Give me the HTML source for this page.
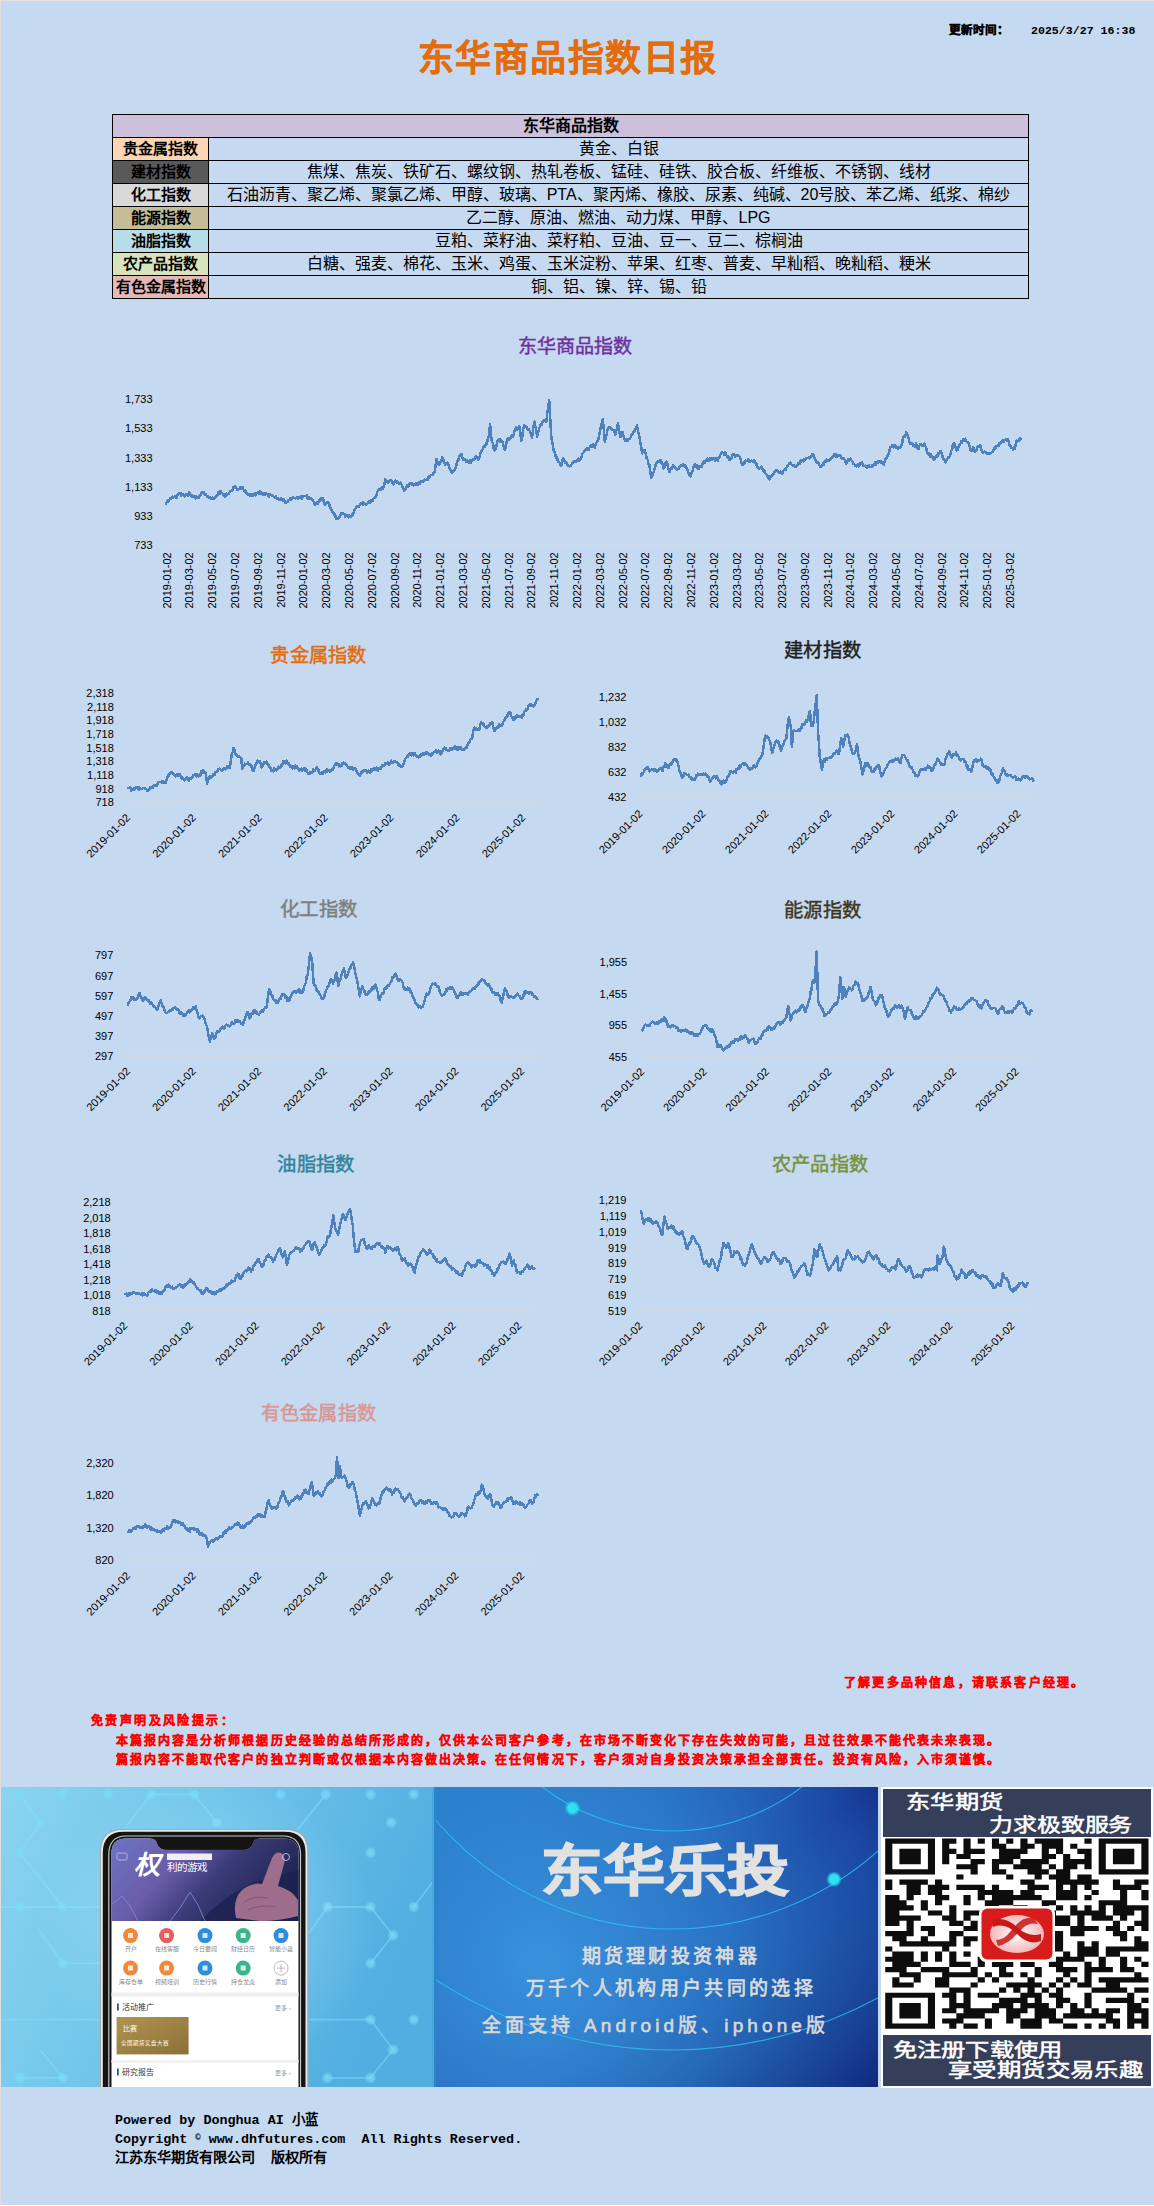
<!DOCTYPE html><html lang="zh-CN"><head><meta charset="utf-8"><style>
html,body{margin:0;padding:0;}
body{width:1154px;height:2206px;overflow:hidden;background:#fff;position:relative;font-family:"Liberation Sans",sans-serif;}
#pg{position:absolute;left:1px;top:1px;width:1153px;height:2204px;background:#C5D9F0;}
.abs{position:absolute;white-space:nowrap;}
table.t{position:absolute;left:112px;top:114px;border-collapse:collapse;font-family:"Liberation Sans",sans-serif;}
table.t td{border:1px solid #000;height:22px;padding:0;text-align:center;font-size:16px;line-height:22px;color:#000;}
table.t td.l{font-weight:bold;font-size:15px;width:95px;}
table.t td.c{width:819px;}
svg{position:absolute;left:0;top:0;}
</style></head><body>
<div style="position:absolute;left:0;top:0;width:1154px;height:1px;background:#E2E0DE"></div>
<div style="position:absolute;left:0;top:0;width:1px;height:2206px;background:#E2E0DE"></div>
<div id="pg"></div>

<div class="abs" style="left:418px;top:36.5px;font-size:36px;font-weight:bold;color:#E46C0A;letter-spacing:1.45px;line-height:44px;-webkit-text-stroke:0.3px #E46C0A">东华商品指数日报</div>
<div class="abs" style="left:949px;top:23px;font-family:'Liberation Mono',monospace;font-size:11.6px;font-weight:bold;line-height:16px"><span style="-webkit-text-stroke:0.35px #000">更新时间：</span><span style="margin-left:22px">2025/3/27 16:38</span></div>
<table class="t"><tr><td colspan="2" style="background:#CCC0DA;font-weight:bold">东华商品指数</td></tr>
<tr><td class="l" style="background:#FCD5B4">贵金属指数</td><td class="c">黄金、白银</td></tr>
<tr><td class="l" style="background:#595959">建材指数</td><td class="c">焦煤、焦炭、铁矿石、螺纹钢、热轧卷板、锰硅、硅铁、胶合板、纤维板、不锈钢、线材</td></tr>
<tr><td class="l" style="background:#D9D9D9">化工指数</td><td class="c">石油沥青、聚乙烯、聚氯乙烯、甲醇、玻璃、PTA、聚丙烯、橡胶、尿素、纯碱、20号胶、苯乙烯、纸浆、棉纱</td></tr>
<tr><td class="l" style="background:#C4BD97">能源指数</td><td class="c">乙二醇、原油、燃油、动力煤、甲醇、LPG</td></tr>
<tr><td class="l" style="background:#B7DEE8">油脂指数</td><td class="c">豆粕、菜籽油、菜籽粕、豆油、豆一、豆二、棕榈油</td></tr>
<tr><td class="l" style="background:#D7E4BD">农产品指数</td><td class="c">白糖、强麦、棉花、玉米、鸡蛋、玉米淀粉、苹果、红枣、普麦、早籼稻、晚籼稻、粳米</td></tr>
<tr><td class="l" style="background:#E6B9B8">有色金属指数</td><td class="c">铜、铝、镍、锌、锡、铅</td></tr>
</table>
<svg width="1154" height="2206" style="font-family:'Liberation Sans',sans-serif">
<text x="152.5" y="403.2" font-size="11" text-anchor="end" fill="#000">1,733</text>
<text x="152.5" y="432.4" font-size="11" text-anchor="end" fill="#000">1,533</text>
<text x="152.5" y="461.6" font-size="11" text-anchor="end" fill="#000">1,333</text>
<text x="152.5" y="490.8" font-size="11" text-anchor="end" fill="#000">1,133</text>
<text x="152.5" y="520.0" font-size="11" text-anchor="end" fill="#000">933</text>
<text x="152.5" y="549.2" font-size="11" text-anchor="end" fill="#000">733</text>
<line x1="166" y1="545.2" x2="1020.7" y2="545.2" stroke="#D9D9D9" stroke-width="1"/>
<text transform="translate(170.6,552.3) rotate(-90)" font-size="11" text-anchor="end" fill="#000">2019-01-02</text>
<text transform="translate(193.4,552.3) rotate(-90)" font-size="11" text-anchor="end" fill="#000">2019-03-02</text>
<text transform="translate(216.2,552.3) rotate(-90)" font-size="11" text-anchor="end" fill="#000">2019-05-02</text>
<text transform="translate(239.0,552.3) rotate(-90)" font-size="11" text-anchor="end" fill="#000">2019-07-02</text>
<text transform="translate(261.8,552.3) rotate(-90)" font-size="11" text-anchor="end" fill="#000">2019-09-02</text>
<text transform="translate(284.6,552.3) rotate(-90)" font-size="11" text-anchor="end" fill="#000">2019-11-02</text>
<text transform="translate(307.4,552.3) rotate(-90)" font-size="11" text-anchor="end" fill="#000">2020-01-02</text>
<text transform="translate(330.2,552.3) rotate(-90)" font-size="11" text-anchor="end" fill="#000">2020-03-02</text>
<text transform="translate(353.0,552.3) rotate(-90)" font-size="11" text-anchor="end" fill="#000">2020-05-02</text>
<text transform="translate(375.8,552.3) rotate(-90)" font-size="11" text-anchor="end" fill="#000">2020-07-02</text>
<text transform="translate(398.5,552.3) rotate(-90)" font-size="11" text-anchor="end" fill="#000">2020-09-02</text>
<text transform="translate(421.3,552.3) rotate(-90)" font-size="11" text-anchor="end" fill="#000">2020-11-02</text>
<text transform="translate(444.1,552.3) rotate(-90)" font-size="11" text-anchor="end" fill="#000">2021-01-02</text>
<text transform="translate(466.9,552.3) rotate(-90)" font-size="11" text-anchor="end" fill="#000">2021-03-02</text>
<text transform="translate(489.7,552.3) rotate(-90)" font-size="11" text-anchor="end" fill="#000">2021-05-02</text>
<text transform="translate(512.5,552.3) rotate(-90)" font-size="11" text-anchor="end" fill="#000">2021-07-02</text>
<text transform="translate(535.3,552.3) rotate(-90)" font-size="11" text-anchor="end" fill="#000">2021-09-02</text>
<text transform="translate(558.1,552.3) rotate(-90)" font-size="11" text-anchor="end" fill="#000">2021-11-02</text>
<text transform="translate(580.9,552.3) rotate(-90)" font-size="11" text-anchor="end" fill="#000">2022-01-02</text>
<text transform="translate(603.7,552.3) rotate(-90)" font-size="11" text-anchor="end" fill="#000">2022-03-02</text>
<text transform="translate(626.5,552.3) rotate(-90)" font-size="11" text-anchor="end" fill="#000">2022-05-02</text>
<text transform="translate(649.3,552.3) rotate(-90)" font-size="11" text-anchor="end" fill="#000">2022-07-02</text>
<text transform="translate(672.1,552.3) rotate(-90)" font-size="11" text-anchor="end" fill="#000">2022-09-02</text>
<text transform="translate(694.9,552.3) rotate(-90)" font-size="11" text-anchor="end" fill="#000">2022-11-02</text>
<text transform="translate(717.7,552.3) rotate(-90)" font-size="11" text-anchor="end" fill="#000">2023-01-02</text>
<text transform="translate(740.5,552.3) rotate(-90)" font-size="11" text-anchor="end" fill="#000">2023-03-02</text>
<text transform="translate(763.3,552.3) rotate(-90)" font-size="11" text-anchor="end" fill="#000">2023-05-02</text>
<text transform="translate(786.1,552.3) rotate(-90)" font-size="11" text-anchor="end" fill="#000">2023-07-02</text>
<text transform="translate(808.8,552.3) rotate(-90)" font-size="11" text-anchor="end" fill="#000">2023-09-02</text>
<text transform="translate(831.6,552.3) rotate(-90)" font-size="11" text-anchor="end" fill="#000">2023-11-02</text>
<text transform="translate(854.4,552.3) rotate(-90)" font-size="11" text-anchor="end" fill="#000">2024-01-02</text>
<text transform="translate(877.2,552.3) rotate(-90)" font-size="11" text-anchor="end" fill="#000">2024-03-02</text>
<text transform="translate(900.0,552.3) rotate(-90)" font-size="11" text-anchor="end" fill="#000">2024-05-02</text>
<text transform="translate(922.8,552.3) rotate(-90)" font-size="11" text-anchor="end" fill="#000">2024-07-02</text>
<text transform="translate(945.6,552.3) rotate(-90)" font-size="11" text-anchor="end" fill="#000">2024-09-02</text>
<text transform="translate(968.4,552.3) rotate(-90)" font-size="11" text-anchor="end" fill="#000">2024-11-02</text>
<text transform="translate(991.2,552.3) rotate(-90)" font-size="11" text-anchor="end" fill="#000">2025-01-02</text>
<text transform="translate(1014.0,552.3) rotate(-90)" font-size="11" text-anchor="end" fill="#000">2025-03-02</text>
<polyline points="166.0,503.7 166.8,502.1 167.7,500.6 168.5,501.4 169.3,499.9 170.1,498.0 170.9,499.1 171.6,498.1 172.4,496.6 173.2,497.6 174.0,497.1 174.9,495.9 175.8,497.5 176.8,498.1 177.7,494.6 178.6,494.0 179.4,492.8 180.2,494.1 181.0,495.7 181.7,493.6 182.5,494.1 183.3,495.3 184.0,495.5 184.8,496.4 185.5,495.0 186.3,494.2 187.0,494.3 187.9,495.7 188.9,492.2 189.8,493.4 190.7,495.9 191.7,495.2 192.6,497.1 193.4,496.0 194.2,496.0 195.0,496.7 195.8,498.5 196.6,496.4 197.4,497.9 198.2,497.7 199.0,497.4 199.7,495.6 200.5,495.4 201.3,493.0 202.1,492.2 202.9,492.9 203.8,492.3 204.7,494.5 205.6,494.3 206.6,495.5 207.5,497.1 208.2,496.7 209.0,497.8 209.7,497.6 210.4,497.3 211.1,499.2 211.9,499.1 212.6,497.7 213.3,499.0 214.0,499.0 215.0,497.7 215.9,496.2 216.7,496.3 217.6,494.7 218.4,492.0 219.3,491.5 220.0,493.6 220.8,491.2 221.6,492.7 222.4,493.4 223.4,495.5 224.3,494.7 225.2,497.1 226.0,496.2 226.7,493.7 227.4,494.3 228.3,494.0 229.1,493.4 229.9,491.5 230.8,491.1 231.7,490.2 232.5,490.4 233.3,487.5 234.1,487.7 234.9,486.0 235.7,487.5 236.5,488.7 237.3,489.7 238.1,488.8 238.9,489.4 239.7,489.1 240.5,486.9 241.2,487.3 242.0,488.5 242.7,487.0 243.5,489.7 244.2,490.1 245.0,491.8 245.7,490.6 246.6,493.6 247.6,494.3 248.4,493.9 249.2,494.5 250.0,495.7 250.8,493.8 251.6,495.5 252.4,494.8 253.2,496.2 254.0,494.4 254.8,493.6 255.6,495.5 256.4,492.8 257.2,492.7 258.0,492.6 258.8,492.5 259.6,493.9 260.3,491.3 261.1,492.7 261.9,493.2 262.7,494.4 263.5,494.4 264.3,493.4 265.1,494.9 265.9,493.2 266.6,493.9 267.4,493.9 268.2,496.0 268.9,496.5 269.7,494.0 270.4,494.3 271.2,494.8 272.0,495.0 272.7,496.2 273.5,496.6 274.3,497.4 275.1,496.8 275.8,496.4 276.6,498.3 277.4,499.0 278.1,498.4 278.9,498.9 279.6,500.0 280.4,498.9 281.1,498.1 281.9,498.9 282.6,500.0 283.3,500.9 284.1,499.5 284.8,501.8 285.6,502.9 286.3,502.2 287.1,502.2 287.8,501.7 288.6,500.0 289.3,499.8 290.1,498.5 290.8,500.0 291.5,497.8 292.3,499.0 293.1,497.5 293.9,498.0 294.7,497.9 295.5,498.5 296.3,497.5 297.1,497.3 297.9,499.0 298.6,497.5 299.4,497.1 300.1,497.7 300.9,496.3 301.6,498.9 302.4,497.7 303.1,495.8 303.8,495.9 304.6,496.0 305.3,496.2 306.1,496.1 306.9,495.5 307.7,498.3 308.4,499.1 309.2,497.6 310.0,498.1 310.8,498.9 311.6,498.5 312.4,499.5 313.2,501.3 314.0,501.9 314.8,504.8 315.6,504.6 316.3,502.8 317.1,501.7 317.8,504.2 318.6,502.1 319.3,500.1 320.1,500.8 320.8,498.4 321.5,499.5 322.3,500.3 323.0,498.1 324.0,502.6 324.9,504.6 325.8,504.3 326.8,501.9 327.7,501.8 328.4,502.8 329.2,503.6 329.9,507.2 330.7,507.9 331.4,509.2 332.3,512.1 333.3,512.4 334.2,514.8 335.0,514.6 335.7,517.4 336.4,518.7 337.2,519.0 337.9,518.6 338.7,518.5 339.4,517.4 340.2,516.0 340.9,513.2 341.7,513.0 342.4,513.8 343.2,514.0 343.9,513.6 344.6,514.3 345.4,516.7 346.1,515.8 346.9,515.5 347.6,516.8 348.4,517.5 349.1,515.6 349.9,517.1 350.6,517.1 351.4,516.8 352.1,514.6 352.8,514.8 353.8,511.7 354.7,509.6 355.6,508.3 356.4,506.5 357.2,505.8 358.0,506.4 358.7,506.6 359.5,505.6 360.3,503.7 361.1,503.6 361.9,504.2 362.6,504.7 363.4,502.2 364.2,504.2 365.0,503.7 365.8,504.8 366.6,504.1 367.4,503.7 368.2,502.5 368.9,501.2 369.7,503.0 370.5,501.8 371.3,500.4 372.0,501.3 372.8,501.1 373.5,498.3 374.3,497.6 375.0,497.1 375.8,497.3 376.6,495.1 377.3,491.8 378.1,490.3 378.9,489.0 379.7,488.8 380.4,489.9 381.1,489.4 381.9,487.0 382.6,489.1 383.4,487.8 384.3,485.1 385.2,479.1 386.2,481.0 387.1,481.3 388.0,483.2 389.0,481.9 389.9,480.4 390.8,480.4 391.8,481.2 392.7,484.1 393.6,484.5 394.6,482.1 395.5,480.4 396.3,481.0 397.1,482.9 397.9,481.7 398.7,483.8 399.5,484.1 400.3,482.6 401.1,484.1 402.0,485.4 402.9,487.7 403.9,490.6 404.6,488.9 405.3,489.3 406.1,487.3 406.8,487.0 407.5,485.2 408.2,487.0 409.0,484.3 409.7,483.8 410.4,483.2 411.1,483.6 411.9,484.9 412.6,483.5 413.4,485.3 414.1,484.1 414.9,484.4 415.6,484.5 416.4,483.0 417.1,484.6 417.9,485.0 418.6,483.2 419.3,481.8 420.1,483.8 420.8,480.9 421.6,481.3 422.4,480.9 423.2,481.5 424.0,480.7 424.8,479.6 425.6,480.0 426.4,479.9 427.2,479.4 427.9,479.6 428.7,476.5 429.5,477.3 430.3,475.5 431.1,474.8 431.8,474.8 432.8,474.8 433.7,472.9 434.6,472.0 435.6,465.7 436.5,458.9 437.4,461.7 438.4,464.1 439.3,464.5 440.1,462.5 440.9,461.2 441.7,459.0 442.4,457.1 443.3,459.6 444.1,462.7 444.9,464.5 445.8,463.7 446.7,463.4 447.7,462.7 448.4,464.3 449.2,467.6 450.0,468.5 450.8,470.8 451.5,472.7 452.3,472.9 453.1,470.8 453.8,470.5 454.6,470.5 455.3,468.9 456.1,466.4 456.8,463.1 457.6,461.1 458.4,460.1 459.2,456.9 459.9,455.4 460.7,454.3 461.5,453.9 462.2,457.1 462.9,458.6 463.7,460.1 464.4,459.9 465.2,459.1 465.9,461.4 466.7,461.5 467.4,460.1 468.2,461.7 468.9,462.8 469.7,463.0 470.4,460.2 471.1,462.5 471.9,460.8 472.6,459.5 473.4,458.9 474.1,459.7 474.9,458.2 475.6,456.1 476.5,456.2 477.5,458.4 478.4,459.9 479.2,457.9 479.9,455.2 480.6,452.7 481.4,451.1 482.1,449.6 482.9,449.4 483.7,446.1 484.5,447.0 485.2,445.7 486.0,443.3 486.8,444.0 487.7,439.7 488.7,436.6 489.4,430.7 490.1,423.9 491.5,439.4 492.2,442.2 493.0,443.5 493.8,449.4 494.6,450.6 495.5,449.0 496.3,447.0 497.1,441.5 498.0,440.3 498.7,439.7 499.5,439.1 500.2,441.8 501.0,440.3 501.7,441.2 502.5,442.1 503.4,445.2 504.2,448.9 505.1,449.6 505.8,447.3 506.5,442.0 507.3,439.4 508.1,437.8 508.9,440.0 509.7,438.4 510.5,438.5 511.3,436.0 512.1,435.5 512.9,436.6 513.8,434.0 514.7,430.1 515.5,429.2 516.3,427.4 517.1,429.7 517.8,428.0 518.6,428.0 519.4,426.3 520.3,432.4 521.3,441.2 522.2,437.2 523.1,429.2 524.1,425.4 524.8,427.3 525.6,426.5 526.4,426.7 527.2,428.1 527.9,430.0 528.7,429.1 529.6,430.4 530.4,432.1 531.2,435.5 532.1,437.5 532.8,431.3 533.6,425.6 534.3,421.7 535.2,425.5 536.2,430.1 537.1,436.6 538.0,432.2 539.0,429.1 539.9,426.3 540.6,424.6 541.4,425.0 542.1,422.3 542.9,421.9 543.6,420.7 544.6,420.0 545.5,420.8 546.4,421.7 547.3,412.9 548.3,406.5 549.2,400.2 550.1,415.8 551.1,434.7 552.0,441.1 552.9,446.1 553.9,451.5 554.6,452.1 555.4,454.8 556.1,458.0 556.9,456.9 557.6,459.9 558.3,462.1 559.1,461.9 559.8,463.2 560.6,465.5 561.3,465.5 562.3,461.4 563.2,458.0 563.9,459.1 564.7,460.9 565.4,463.0 566.2,461.9 566.9,463.6 567.8,465.7 568.8,466.2 569.7,466.4 570.5,466.2 571.3,464.7 572.1,463.9 572.9,462.2 573.7,461.8 574.5,460.9 575.3,461.7 576.1,462.1 576.9,460.0 577.6,459.2 578.4,458.5 579.2,460.6 580.0,458.9 580.7,458.9 581.4,456.9 582.2,454.3 582.9,452.8 583.7,452.4 584.4,451.1 585.1,451.0 585.8,449.4 586.5,449.7 587.2,448.5 587.9,450.3 588.6,449.7 589.3,447.6 590.0,446.8 590.9,445.0 591.9,446.5 592.8,444.0 593.7,445.2 594.7,447.8 595.4,445.6 596.1,442.7 596.9,442.3 597.6,441.0 598.4,439.4 599.3,434.7 600.2,430.1 601.1,425.3 601.9,422.6 602.7,418.9 603.4,425.0 604.2,433.6 604.9,442.2 605.7,437.8 606.4,435.9 607.1,431.7 607.9,428.6 608.6,427.3 609.4,427.0 610.2,427.2 611.0,428.8 611.8,429.0 612.6,430.1 613.4,430.2 614.2,430.1 615.2,434.7 616.1,431.7 617.0,428.6 617.9,423.5 618.7,427.5 619.4,431.6 620.2,436.6 621.0,436.7 621.8,432.3 622.6,431.9 623.5,435.8 624.5,438.6 625.4,441.2 626.2,439.0 627.0,441.0 627.8,440.6 628.6,439.0 629.4,438.7 630.2,438.3 631.0,436.6 631.7,434.0 632.5,433.9 633.2,432.4 634.0,432.1 634.7,430.6 635.5,429.3 636.2,427.1 637.0,425.4 637.8,430.5 638.6,433.5 639.4,436.6 640.3,442.8 641.2,446.8 642.2,453.4 643.1,450.8 644.0,450.2 645.0,450.6 645.9,454.3 646.8,458.9 647.6,459.5 648.4,463.8 649.3,464.5 650.2,471.2 651.1,477.6 651.9,476.1 652.7,474.3 653.5,472.6 654.3,470.1 655.2,467.3 656.1,462.8 657.1,461.7 657.8,462.4 658.6,461.8 659.3,460.6 660.1,460.4 660.8,459.9 661.7,463.2 662.7,464.0 663.6,468.3 664.5,466.9 665.5,463.1 666.4,461.7 667.3,463.7 668.3,467.8 669.2,472.0 669.9,471.5 670.7,468.4 671.4,468.9 672.2,468.4 672.9,465.5 673.7,466.1 674.5,466.3 675.2,467.3 676.0,468.6 676.8,469.5 677.6,469.2 678.4,468.9 679.2,468.3 680.0,465.8 680.8,465.3 681.6,465.0 682.4,466.0 683.2,464.5 683.9,464.8 684.7,466.6 685.4,465.7 686.1,466.8 686.9,469.2 687.6,469.9 688.4,472.8 689.1,474.3 689.9,475.7 690.6,476.6 691.4,473.5 692.1,471.9 692.9,469.3 693.6,466.8 694.3,464.5 695.1,463.9 695.9,467.1 696.7,465.4 697.4,468.6 698.2,469.1 699.0,468.3 699.7,465.8 700.4,466.5 701.2,466.9 701.9,466.5 702.6,463.9 703.3,462.5 704.1,461.5 704.8,463.1 705.5,460.8 706.3,459.5 707.0,460.5 707.8,458.7 708.5,459.8 709.2,460.9 710.0,457.9 710.7,459.9 711.5,458.6 712.2,459.6 713.0,458.0 713.8,459.2 714.5,458.0 715.3,460.8 716.1,459.8 716.9,458.7 717.6,460.8 718.4,457.6 719.1,457.8 719.9,456.2 720.6,454.2 721.4,453.4 722.1,452.3 722.9,453.1 723.7,453.2 724.5,455.1 725.2,452.4 726.0,454.3 726.8,456.3 727.5,457.7 728.3,456.3 729.0,460.2 729.7,459.9 730.5,459.5 731.2,459.0 732.0,455.8 732.7,455.0 733.5,454.3 734.3,454.2 735.1,456.5 735.9,455.4 736.7,454.9 737.5,455.4 738.3,455.1 739.1,456.1 740.0,457.4 740.9,460.4 741.9,464.5 742.6,465.0 743.4,462.6 744.2,464.1 745.0,461.2 745.7,460.6 746.5,460.8 747.3,460.7 748.0,459.6 748.7,460.1 749.5,462.0 750.2,461.6 751.0,461.3 751.7,460.6 752.5,461.5 753.2,461.5 754.0,459.9 754.7,461.5 755.5,463.6 756.2,462.8 756.9,466.6 757.7,467.3 758.5,467.3 759.2,468.5 760.0,468.3 760.8,467.2 761.6,466.6 762.3,468.3 763.3,471.3 764.2,470.1 765.1,472.9 765.9,473.9 766.6,474.6 767.4,475.6 768.1,478.2 768.9,478.5 769.6,479.3 770.4,476.1 771.2,476.7 772.0,474.7 772.8,474.8 773.5,473.8 774.3,472.7 775.0,471.2 775.8,470.5 776.5,469.9 777.3,470.1 778.2,472.4 779.1,472.0 780.1,472.9 780.8,471.6 781.6,473.5 782.4,473.4 783.2,471.1 784.0,469.7 784.8,469.5 785.6,470.1 786.4,467.5 787.2,467.1 788.0,465.0 788.7,464.3 789.5,463.1 790.3,462.7 791.1,463.6 791.9,465.3 792.7,465.5 793.5,465.0 794.3,465.7 795.1,466.7 795.9,467.3 796.7,466.0 797.5,464.9 798.3,463.0 799.1,462.8 799.9,464.3 800.7,460.5 801.5,460.8 802.2,460.6 802.9,460.8 803.6,461.3 804.3,458.9 805.0,459.6 805.8,458.4 806.5,458.0 807.3,458.1 808.1,457.9 808.8,457.7 809.7,458.3 810.5,457.0 811.4,456.1 812.2,453.9 813.1,453.7 813.9,455.1 814.7,458.9 815.5,459.6 816.2,462.0 816.9,461.7 817.7,463.2 818.4,462.3 819.1,464.8 819.9,466.3 820.7,467.0 821.5,465.9 822.3,465.3 823.1,463.4 823.8,464.5 824.5,461.6 825.3,460.6 826.0,461.5 826.7,459.7 827.5,460.4 828.3,460.4 829.0,460.7 829.8,459.4 830.5,458.6 831.3,458.4 832.1,456.8 832.8,456.5 833.6,455.8 834.4,454.0 835.3,456.4 836.1,454.3 837.0,456.4 837.8,454.8 838.6,455.9 839.3,455.2 840.1,455.2 840.8,456.2 841.6,458.0 842.4,458.8 843.1,458.6 843.8,458.5 844.6,459.6 845.3,462.3 846.0,463.4 846.7,462.7 847.4,461.1 848.1,459.6 848.9,459.6 849.6,460.3 850.4,458.7 851.1,460.1 851.9,461.0 852.7,461.5 853.4,464.0 854.2,463.9 855.0,465.7 855.7,465.2 856.5,466.3 857.3,464.9 858.1,464.4 858.9,466.4 859.7,465.1 860.4,463.2 861.2,463.4 862.0,462.5 862.7,464.8 863.4,466.1 864.1,466.3 864.8,466.1 865.6,465.6 866.3,467.1 867.1,468.1 867.8,465.9 868.6,465.3 869.3,466.5 870.0,466.8 870.8,467.2 871.5,467.2 872.2,465.0 872.9,466.4 873.6,465.6 874.4,464.3 875.1,462.6 875.8,464.6 876.5,462.4 877.3,461.7 878.1,463.2 878.9,461.1 879.7,460.9 880.5,462.5 881.3,461.5 882.2,462.2 883.2,464.4 883.9,464.6 884.7,461.7 885.5,459.3 886.2,458.1 887.0,457.7 887.7,455.3 888.4,454.0 889.1,452.8 889.8,449.1 890.6,446.9 891.3,446.8 892.0,445.3 892.7,445.3 893.5,447.5 894.2,445.2 895.0,445.5 895.8,446.1 896.5,448.2 897.3,447.3 898.1,448.6 898.9,448.0 899.7,447.0 900.5,447.5 901.3,445.3 902.0,444.4 902.7,439.9 903.4,437.1 904.1,435.8 904.9,436.5 905.6,435.2 906.3,432.0 907.0,432.9 907.7,436.1 908.4,437.7 909.1,440.3 909.9,443.4 910.6,443.4 911.4,443.4 912.1,443.4 912.9,444.9 913.7,446.2 914.4,445.3 915.1,446.8 915.8,443.5 916.5,444.3 917.5,448.3 918.4,449.1 919.4,445.7 920.3,444.3 921.1,444.0 921.9,445.7 922.7,445.9 923.5,444.7 924.3,443.6 925.1,445.3 925.8,447.3 926.5,449.1 927.3,453.2 928.0,453.9 928.7,453.4 929.5,454.6 930.3,456.9 931.0,454.6 931.8,456.7 932.5,457.1 933.2,459.2 933.9,459.8 934.6,459.6 935.4,457.0 936.1,455.9 936.8,454.9 937.5,456.7 938.2,453.4 938.9,454.0 939.7,453.4 940.4,451.0 941.2,452.4 942.0,454.0 942.8,458.3 943.5,459.0 944.3,459.7 945.1,462.4 945.9,462.2 946.7,459.9 947.4,458.8 948.2,456.9 948.9,457.7 949.7,456.2 950.5,454.3 951.3,451.0 952.1,449.7 952.9,444.1 953.7,443.4 954.5,443.8 955.2,446.0 956.0,448.9 956.8,450.3 957.5,450.1 958.3,448.0 959.1,445.8 959.8,444.7 960.6,443.2 961.3,441.5 962.1,442.4 962.9,439.3 963.6,440.8 964.4,440.0 965.2,438.6 965.9,440.9 966.7,441.8 967.4,442.4 968.2,442.6 969.0,444.3 969.9,447.1 970.9,451.0 971.6,449.8 972.3,450.5 973.0,447.4 973.7,448.2 974.7,452.0 975.4,450.1 976.1,451.2 976.8,448.6 977.5,447.1 978.3,446.2 979.0,447.1 979.7,445.5 980.4,445.3 981.1,448.8 981.8,450.4 982.6,452.7 983.3,452.9 984.0,452.2 984.7,451.7 985.5,451.9 986.2,453.3 987.0,454.2 987.7,453.4 988.5,452.8 989.2,453.5 989.9,453.9 990.7,453.4 991.4,452.8 992.1,452.2 992.8,451.7 993.5,450.3 994.2,447.6 994.9,449.2 995.7,447.2 996.5,445.9 997.2,446.2 998.0,444.9 998.8,445.5 999.6,443.0 1000.4,443.4 1001.2,441.9 1002.0,441.2 1002.8,440.3 1003.6,442.1 1004.4,440.5 1005.2,439.6 1005.9,439.0 1006.6,439.2 1007.3,441.2 1008.1,439.6 1009.0,442.9 1010.0,446.2 1010.8,445.8 1011.5,448.2 1012.3,448.2 1013.1,449.8 1013.9,447.3 1014.7,449.1 1015.7,444.7 1016.6,440.5 1017.4,441.3 1018.3,441.1 1019.1,441.1 1019.9,437.9 1020.7,439.2" fill="none" stroke="#4F81BD" stroke-width="2.5" stroke-linejoin="round" stroke-linecap="round" shape-rendering="crispEdges"/>
<text x="517.9" y="353" font-size="19" textLength="114.6" lengthAdjust="spacingAndGlyphs" fill="#7030A0" stroke="#7030A0" stroke-width="0.45">东华商品指数</text>
<text x="113.8" y="697.0" font-size="11" text-anchor="end" fill="#000">2,318</text>
<text x="113.8" y="710.6" font-size="11" text-anchor="end" fill="#000">2,118</text>
<text x="113.8" y="724.3" font-size="11" text-anchor="end" fill="#000">1,918</text>
<text x="113.8" y="738.0" font-size="11" text-anchor="end" fill="#000">1,718</text>
<text x="113.8" y="751.6" font-size="11" text-anchor="end" fill="#000">1,518</text>
<text x="113.8" y="765.2" font-size="11" text-anchor="end" fill="#000">1,318</text>
<text x="113.8" y="778.9" font-size="11" text-anchor="end" fill="#000">1,118</text>
<text x="113.8" y="792.6" font-size="11" text-anchor="end" fill="#000">918</text>
<text x="113.8" y="806.2" font-size="11" text-anchor="end" fill="#000">718</text>
<line x1="128" y1="802.2" x2="537.8" y2="802.2" stroke="#D9D9D9" stroke-width="1"/>
<text transform="translate(130.8,818.5) rotate(-45)" font-size="11" text-anchor="end" fill="#000">2019-01-02</text>
<text transform="translate(196.7,818.5) rotate(-45)" font-size="11" text-anchor="end" fill="#000">2020-01-02</text>
<text transform="translate(262.6,818.5) rotate(-45)" font-size="11" text-anchor="end" fill="#000">2021-01-02</text>
<text transform="translate(328.5,818.5) rotate(-45)" font-size="11" text-anchor="end" fill="#000">2022-01-02</text>
<text transform="translate(394.4,818.5) rotate(-45)" font-size="11" text-anchor="end" fill="#000">2023-01-02</text>
<text transform="translate(460.3,818.5) rotate(-45)" font-size="11" text-anchor="end" fill="#000">2024-01-02</text>
<text transform="translate(526.2,818.5) rotate(-45)" font-size="11" text-anchor="end" fill="#000">2025-01-02</text>
<polyline points="128.0,788.3 128.8,787.8 129.6,787.3 130.5,787.8 131.3,790.6 132.1,789.2 132.9,789.2 133.6,790.0 134.4,787.8 135.1,789.2 135.9,787.5 136.6,787.4 137.4,786.9 138.1,789.0 138.8,790.0 139.6,787.5 140.3,789.2 141.2,789.2 142.1,789.0 143.0,788.3 143.8,787.8 144.5,788.7 145.3,788.4 146.1,789.1 146.8,789.7 147.6,791.0 148.3,790.7 149.1,790.3 149.8,788.2 150.6,786.9 151.4,787.4 152.1,787.4 152.8,787.6 153.6,785.6 154.3,785.6 155.0,784.9 155.8,785.6 156.5,785.9 157.3,784.5 158.0,782.2 158.8,781.8 159.5,782.2 160.3,781.9 161.1,782.2 161.9,782.6 162.6,780.9 163.4,781.3 164.2,783.2 165.0,782.4 165.8,782.8 166.6,779.7 167.3,777.3 168.1,775.5 168.9,776.2 169.7,773.1 170.5,773.0 171.2,771.9 172.1,772.3 173.0,773.4 174.0,774.6 174.7,776.0 175.5,776.6 176.3,774.6 177.1,774.1 177.9,776.1 178.6,774.4 179.4,775.5 180.2,774.5 180.9,778.1 181.7,777.1 182.4,779.1 183.2,778.3 184.0,779.2 184.7,780.5 185.4,779.0 186.1,778.0 186.8,777.5 187.5,779.4 188.2,779.7 188.9,780.6 189.6,777.8 190.3,779.2 191.1,778.8 191.9,777.2 192.6,776.9 193.4,774.9 194.1,774.7 194.9,774.6 195.6,774.9 196.4,776.4 197.2,773.8 197.9,775.2 198.7,776.4 199.4,775.5 200.2,776.0 200.9,772.3 201.6,771.0 202.3,772.7 203.1,770.1 204.0,772.6 204.9,771.8 205.8,772.8 207.1,783.7 207.8,779.0 208.5,777.4 209.3,778.4 210.1,776.2 210.9,777.6 211.7,776.2 212.4,776.5 213.2,773.9 214.0,774.6 214.8,774.7 215.5,771.9 216.3,771.6 217.0,772.2 217.8,771.2 218.5,769.2 219.3,768.5 220.0,768.9 220.7,769.9 221.5,770.7 222.2,771.0 222.9,770.0 223.7,768.5 224.5,768.3 225.2,769.3 226.0,769.3 226.7,767.4 227.5,765.8 228.4,767.6 229.2,768.2 230.0,767.4 231.3,757.3 232.0,752.7 232.7,752.4 233.5,748.2 234.3,749.1 235.0,752.8 235.8,754.6 236.7,755.4 237.6,756.3 238.6,756.4 239.5,756.4 240.4,757.4 241.3,758.3 242.2,769.2 243.1,767.6 244.0,765.3 244.9,763.7 245.7,764.4 246.5,763.8 247.3,763.9 248.0,762.6 248.8,764.8 249.6,764.5 250.4,764.6 251.2,765.3 252.0,768.7 252.8,770.4 253.7,771.0 254.4,768.6 255.2,765.4 256.0,764.1 256.8,761.9 257.5,760.7 258.2,761.0 258.9,762.2 259.7,761.2 260.4,762.8 261.7,767.4 262.5,765.8 263.3,764.7 264.1,761.7 264.9,761.9 265.7,762.9 266.4,761.6 267.1,764.3 267.9,765.0 268.6,764.6 269.5,766.8 270.4,767.4 271.3,771.0 272.0,770.6 272.8,769.8 273.5,771.4 274.2,768.3 275.0,769.2 275.7,770.1 276.5,770.3 277.2,769.1 278.0,769.0 278.7,766.6 279.5,767.4 280.3,767.9 281.0,765.2 281.8,765.7 282.5,764.5 283.3,760.9 284.1,761.0 284.8,762.3 285.5,763.2 286.2,760.6 287.0,761.9 287.7,762.8 288.4,764.6 289.2,763.5 289.9,766.9 290.6,765.7 291.3,767.4 292.1,768.3 292.9,765.9 293.7,767.0 294.5,768.3 295.2,765.7 296.0,765.8 296.8,766.4 297.6,768.0 298.4,768.9 299.2,771.0 299.9,769.0 300.6,769.1 301.3,768.7 302.0,770.9 302.7,769.7 303.4,770.0 304.1,768.3 304.8,768.0 305.6,771.1 306.3,769.7 307.1,772.0 307.9,773.3 308.6,773.7 309.4,772.7 310.2,773.9 311.0,772.3 311.7,771.9 312.5,772.4 313.3,769.3 314.1,770.1 315.0,770.8 315.9,768.7 316.8,767.4 317.5,768.3 318.3,770.9 319.0,770.4 319.7,774.1 320.5,773.7 321.2,773.7 322.0,772.6 322.7,773.7 323.5,772.3 324.2,771.1 325.0,771.9 325.7,772.4 326.5,769.6 327.2,771.9 327.9,769.6 328.6,770.1 329.4,770.6 330.1,771.7 330.8,770.4 331.5,770.6 332.3,769.4 333.0,770.1 333.7,766.9 334.5,765.6 335.2,764.5 335.9,764.7 336.6,762.8 337.4,763.3 338.1,764.3 338.8,766.3 339.6,764.5 340.3,766.4 341.0,765.0 341.7,765.9 342.5,763.2 343.2,762.6 343.9,763.7 344.7,763.9 345.5,763.7 346.3,765.2 347.0,765.4 347.8,767.2 348.6,767.9 349.4,768.3 350.1,767.4 350.8,768.9 351.5,768.5 352.2,767.4 352.9,770.3 353.6,768.0 354.3,767.8 355.0,767.7 355.7,769.2 356.6,770.9 357.4,773.0 358.3,774.0 359.1,773.9 359.9,775.5 360.7,773.6 361.5,771.7 362.3,772.8 363.1,771.4 363.9,770.1 364.7,769.8 365.5,771.1 366.3,770.7 367.1,772.6 367.8,772.2 368.6,770.8 369.4,771.9 370.2,772.9 371.0,769.6 371.7,770.8 372.5,770.0 373.3,769.1 374.1,768.1 374.9,769.2 375.6,770.1 376.4,767.5 377.2,769.3 378.0,770.7 378.8,768.0 379.5,768.2 380.3,769.2 381.2,767.7 382.1,765.5 382.9,765.3 383.7,765.5 384.5,765.8 385.3,763.4 386.0,763.6 386.8,763.3 387.6,763.7 388.3,761.9 389.1,764.5 389.8,763.9 390.5,763.4 391.2,760.7 392.0,763.2 392.7,762.6 393.4,761.4 394.1,762.1 394.9,761.0 395.6,761.7 396.3,761.9 397.1,762.4 397.8,763.7 398.5,765.5 399.2,764.1 400.0,765.3 400.7,766.9 401.4,766.9 402.2,766.4 403.1,765.5 404.0,762.9 404.9,760.1 405.6,758.2 406.3,758.1 407.1,756.6 407.8,756.7 408.5,754.6 409.3,754.5 410.0,753.5 410.8,754.6 411.6,755.6 412.3,752.9 413.1,753.7 413.8,755.5 414.5,753.1 415.3,754.5 416.0,755.0 416.7,756.4 417.5,757.0 418.3,757.4 419.1,756.5 419.8,754.8 420.6,756.4 421.4,754.3 422.2,754.6 422.9,753.3 423.7,755.1 424.4,753.7 425.2,753.4 426.0,752.9 426.7,751.9 427.4,754.1 428.2,752.9 428.9,754.7 429.6,754.7 430.4,754.6 431.1,755.4 431.8,753.6 432.5,754.2 433.2,753.2 433.9,751.9 434.6,751.2 435.3,752.2 436.0,749.9 436.7,751.0 437.5,752.8 438.2,750.7 439.0,750.7 439.8,751.5 440.5,754.7 441.3,753.7 442.2,751.7 443.1,749.5 444.0,749.2 444.8,747.7 445.6,747.9 446.3,750.2 447.1,750.1 447.9,750.5 448.7,750.7 449.5,750.1 450.2,748.1 451.0,749.5 451.7,748.2 452.5,749.3 453.3,748.9 454.0,747.3 454.7,748.9 455.4,746.3 456.1,749.2 456.8,749.6 457.6,749.9 458.3,747.2 459.0,747.7 459.7,747.6 460.4,749.2 461.1,747.5 461.8,750.1 462.5,749.9 463.2,749.2 463.9,749.8 464.6,749.0 465.3,747.7 466.1,747.0 466.8,748.2 467.7,744.1 468.6,742.8 469.3,742.7 470.0,740.0 470.8,739.4 471.5,738.9 472.2,738.2 473.1,731.6 474.0,728.2 474.8,727.7 475.6,728.1 476.3,729.9 477.1,729.0 477.8,729.1 478.6,730.0 479.5,728.9 480.4,724.6 481.3,721.9 482.0,724.1 482.8,724.4 483.5,723.5 484.2,725.9 485.0,727.3 485.7,726.9 486.4,727.9 487.1,726.2 487.9,727.3 488.6,726.4 489.4,725.4 490.1,723.2 490.9,724.2 491.7,721.9 492.4,722.7 493.1,727.5 493.9,727.6 494.6,731.0 495.4,728.1 496.1,727.7 496.9,728.4 497.7,726.4 498.5,727.7 499.2,724.1 500.0,725.5 500.7,725.2 501.5,725.9 502.2,724.6 503.2,721.7 504.1,720.9 505.0,719.1 505.7,717.4 506.5,717.8 507.2,714.7 508.0,715.8 508.8,712.3 509.5,711.8 510.3,712.5 511.0,715.8 511.7,716.8 512.4,717.1 513.2,720.0 513.9,719.6 514.6,716.8 515.3,718.3 516.1,717.1 516.8,715.5 517.6,716.8 518.3,716.5 519.1,715.9 519.8,716.4 520.6,716.6 521.4,717.3 522.1,717.6 522.9,713.8 523.6,715.4 524.4,711.4 525.1,711.0 525.9,710.9 526.6,708.9 527.4,709.8 528.1,707.1 528.8,705.4 529.5,704.6 530.3,706.2 531.0,704.4 531.7,705.5 532.5,706.1 533.2,706.4 534.0,706.0 534.7,704.8 535.5,703.2 536.3,701.0 537.0,699.7 537.8,699.1" fill="none" stroke="#4F81BD" stroke-width="2.5" stroke-linejoin="round" stroke-linecap="round" shape-rendering="crispEdges"/>
<text x="270.4" y="662" font-size="19" textLength="96.2" lengthAdjust="spacingAndGlyphs" fill="#E46C0A" stroke="#E46C0A" stroke-width="0.45">贵金属指数</text>
<text x="626.4" y="701.3" font-size="11" text-anchor="end" fill="#000">1,232</text>
<text x="626.4" y="726.2" font-size="11" text-anchor="end" fill="#000">1,032</text>
<text x="626.4" y="751.1" font-size="11" text-anchor="end" fill="#000">832</text>
<text x="626.4" y="776.1" font-size="11" text-anchor="end" fill="#000">632</text>
<text x="626.4" y="801.0" font-size="11" text-anchor="end" fill="#000">432</text>
<line x1="641" y1="797" x2="1033.4" y2="797" stroke="#D9D9D9" stroke-width="1"/>
<text transform="translate(643.4,814.5) rotate(-45)" font-size="11" text-anchor="end" fill="#000">2019-01-02</text>
<text transform="translate(706.4,814.5) rotate(-45)" font-size="11" text-anchor="end" fill="#000">2020-01-02</text>
<text transform="translate(769.4,814.5) rotate(-45)" font-size="11" text-anchor="end" fill="#000">2021-01-02</text>
<text transform="translate(832.4,814.5) rotate(-45)" font-size="11" text-anchor="end" fill="#000">2022-01-02</text>
<text transform="translate(895.4,814.5) rotate(-45)" font-size="11" text-anchor="end" fill="#000">2023-01-02</text>
<text transform="translate(958.4,814.5) rotate(-45)" font-size="11" text-anchor="end" fill="#000">2024-01-02</text>
<text transform="translate(1021.4,814.5) rotate(-45)" font-size="11" text-anchor="end" fill="#000">2025-01-02</text>
<polyline points="641.0,775.5 641.7,773.3 642.4,774.6 643.1,773.0 643.8,772.3 644.5,769.4 645.2,769.3 645.9,769.4 646.6,767.5 647.3,768.5 648.0,767.6 648.7,769.5 649.4,771.6 650.1,771.0 650.8,769.8 651.6,769.3 652.3,769.3 653.0,770.3 653.7,769.3 654.4,771.0 655.1,769.2 655.8,769.7 656.5,770.5 657.2,771.9 658.1,770.2 659.0,769.6 659.9,768.4 660.7,768.1 661.6,769.6 662.5,771.0 663.4,767.3 664.3,767.3 665.2,763.1 666.1,765.3 666.9,764.7 667.8,767.5 668.7,768.2 669.6,764.4 670.5,764.9 671.2,763.2 671.9,764.0 672.6,762.1 673.3,760.7 674.0,758.7 674.7,759.1 675.4,759.0 676.1,761.3 676.8,760.2 677.5,762.2 678.4,765.2 679.3,770.2 680.2,772.4 681.1,773.9 682.0,778.1 682.8,776.0 683.7,775.6 684.6,772.8 685.3,774.1 686.1,774.0 686.8,775.0 687.6,775.0 688.3,774.5 689.0,776.3 689.8,777.2 690.5,777.0 691.3,778.7 692.1,779.7 692.8,778.6 693.6,779.6 694.3,779.9 695.0,779.5 695.7,777.1 696.5,775.2 697.2,775.7 697.9,773.7 698.6,775.1 699.3,774.8 700.0,774.6 700.7,775.2 701.4,774.7 702.1,774.7 702.8,774.2 703.5,773.8 704.2,774.9 704.9,774.6 705.6,773.6 706.4,775.0 707.1,776.6 707.8,776.7 708.5,776.3 709.4,779.4 710.2,781.6 711.0,779.7 711.7,779.3 712.4,778.3 713.1,777.8 713.8,776.3 714.5,776.2 715.2,777.3 715.9,778.3 716.6,776.0 717.3,777.2 718.0,779.0 718.7,780.6 719.4,780.6 720.1,782.1 720.9,783.4 721.6,784.6 722.4,781.1 723.1,782.4 723.9,780.7 724.6,782.5 725.4,782.6 726.2,780.8 726.9,779.2 727.6,776.2 728.4,776.2 729.1,774.4 729.8,773.4 730.6,771.0 731.3,771.2 732.0,771.8 732.8,772.6 733.5,771.7 734.3,771.5 735.0,771.9 735.8,772.6 736.5,769.2 737.3,769.9 738.1,768.0 738.9,768.4 739.6,765.3 740.4,767.4 741.2,764.9 741.9,764.4 742.7,763.3 743.5,764.1 744.2,764.5 745.0,763.2 745.7,764.6 746.5,764.9 747.2,765.6 747.9,767.6 748.6,767.5 749.3,768.3 750.0,770.2 750.7,768.3 751.4,769.2 752.1,769.0 752.8,766.7 753.6,765.7 754.4,765.1 755.3,767.3 756.2,766.6 756.9,764.7 757.6,762.5 758.3,760.6 759.0,761.2 759.7,758.7 760.6,758.2 761.5,756.2 762.4,754.2 763.3,748.2 764.2,742.7 765.0,736.6 765.9,735.6 766.8,738.1 767.7,736.6 768.6,737.8 769.5,740.6 770.3,741.9 771.2,748.3 772.1,752.5 772.8,751.4 773.5,748.1 774.2,745.4 774.9,744.2 775.6,741.9 776.5,740.3 777.4,742.4 778.3,741.0 779.2,743.7 780.1,748.7 781.0,750.7 781.8,747.6 782.7,745.6 783.6,743.6 784.5,741.0 785.4,739.9 786.3,738.3 787.1,730.2 788.0,722.5 788.9,717.1 789.8,722.3 790.7,726.0 791.9,747.2 792.6,738.5 793.3,731.3 794.0,730.4 794.7,730.6 795.4,731.2 796.2,731.0 796.9,731.3 797.6,731.2 798.3,730.7 799.0,729.2 799.7,730.6 800.4,728.6 801.3,728.3 802.2,724.2 803.0,724.2 803.8,724.6 804.5,724.1 805.3,722.9 806.0,720.0 806.7,721.6 807.5,719.8 808.4,717.3 809.2,712.2 810.1,710.9 811.0,726.0 811.9,724.3 812.8,726.0 813.7,721.3 814.5,713.6 815.2,707.9 816.0,700.4 816.7,695.0 817.4,712.7 818.1,733.0 819.0,744.2 819.8,757.8 820.6,761.0 821.3,767.0 822.0,770.2 822.7,765.2 823.4,761.3 824.1,759.5 824.9,761.5 825.6,760.5 826.3,757.8 827.1,759.7 827.8,757.8 828.5,757.9 829.3,758.1 830.0,757.5 830.7,757.9 831.5,757.3 832.2,756.0 833.0,756.3 833.7,753.2 834.4,754.0 835.2,752.6 835.9,752.4 836.6,750.7 837.6,752.3 838.7,754.2 839.5,750.2 840.4,743.8 841.3,738.3 842.2,742.0 843.1,747.2 844.0,742.1 844.8,737.7 845.7,734.8 846.6,735.4 847.5,734.5 848.4,736.6 849.3,740.9 850.1,745.4 851.0,747.1 851.9,751.3 852.8,754.2 853.6,753.6 854.3,753.2 855.1,752.5 856.0,749.7 856.9,744.5 857.6,747.3 858.3,754.5 859.0,757.8 859.9,760.3 860.7,763.1 861.6,769.0 862.5,774.6 863.4,771.3 864.3,768.1 865.2,763.1 865.9,763.0 866.6,763.5 867.3,765.7 868.0,763.1 868.7,764.9 869.4,766.7 870.1,768.1 870.8,767.5 871.5,770.9 872.2,771.9 873.0,771.7 873.8,771.6 874.6,768.7 875.3,770.0 876.1,767.5 876.9,766.6 877.7,767.1 878.4,764.9 879.2,766.1 880.0,771.3 880.8,773.9 881.6,776.3 882.4,774.2 883.1,774.5 883.9,771.2 884.6,770.2 885.4,768.8 886.1,767.7 886.9,767.3 887.6,764.1 888.4,763.6 889.2,762.3 889.9,761.3 890.7,761.4 891.4,762.1 892.1,760.2 892.9,761.8 893.6,760.3 894.3,760.4 895.0,759.9 895.7,758.6 896.5,758.9 897.2,759.9 897.9,757.8 898.8,760.1 899.6,762.3 900.5,763.1 901.4,758.5 902.3,755.1 903.2,754.8 904.1,755.0 904.9,756.0 905.6,757.7 906.4,759.3 907.1,761.2 907.8,760.1 908.5,763.1 909.2,765.2 910.0,767.2 910.7,767.4 911.5,767.1 912.3,769.3 913.0,769.7 913.8,772.8 914.5,772.5 915.2,775.7 915.9,775.3 916.6,776.2 917.3,776.3 918.0,775.9 918.7,774.9 919.4,772.5 920.1,771.1 920.9,769.3 921.6,769.7 922.4,769.9 923.1,769.6 923.9,769.9 924.6,768.3 925.4,769.8 926.2,769.3 927.0,767.4 927.9,765.7 928.6,767.7 929.3,766.5 930.0,767.8 930.7,768.4 931.5,771.0 932.2,770.4 933.0,769.4 933.8,766.9 934.6,764.4 935.3,764.4 936.1,762.7 936.9,760.4 937.6,758.7 938.4,759.1 939.1,760.5 939.8,762.1 940.5,763.0 941.2,764.9 942.1,764.6 942.9,765.3 943.8,764.9 944.6,764.3 945.3,759.3 946.1,759.0 946.9,755.2 947.6,753.5 948.4,753.8 949.1,750.7 950.0,753.3 950.9,756.8 951.8,757.8 952.5,756.7 953.3,754.4 954.0,754.7 954.7,754.6 955.5,754.8 956.2,752.5 956.9,755.5 957.6,755.2 958.3,756.4 959.0,756.8 959.7,759.5 960.5,760.3 961.3,759.1 962.0,759.1 962.8,758.9 963.5,759.1 964.3,761.7 965.0,761.3 965.8,761.8 966.5,766.4 967.2,765.2 967.9,769.6 968.6,770.2 969.5,769.5 970.3,769.7 971.2,771.9 972.1,768.8 973.0,763.4 973.9,760.4 974.6,761.2 975.4,759.4 976.1,758.9 976.8,761.4 977.6,761.2 978.3,760.4 979.2,761.1 980.1,760.0 981.0,758.7 981.8,760.8 982.7,765.7 983.5,766.4 984.2,767.0 985.0,766.4 985.8,768.2 986.5,766.2 987.3,768.8 988.0,767.5 988.8,769.5 989.5,768.4 990.3,769.6 991.1,773.1 991.8,774.9 992.6,773.6 993.3,776.3 994.2,777.2 995.1,780.1 996.0,780.8 996.9,780.2 997.7,783.2 998.6,782.5 999.4,780.1 1000.1,776.3 1000.8,775.0 1001.6,773.4 1002.3,770.5 1003.0,768.4 1003.9,771.0 1004.8,771.3 1005.7,774.6 1006.5,775.7 1007.2,774.4 1008.0,775.4 1008.7,775.5 1009.5,774.9 1010.2,774.9 1011.0,775.5 1011.7,776.8 1012.5,777.7 1013.2,777.5 1014.0,777.2 1014.7,776.6 1015.4,776.2 1016.2,779.6 1016.9,779.1 1017.6,779.9 1018.4,778.6 1019.1,779.9 1019.8,779.9 1020.7,780.3 1021.6,778.6 1022.5,776.3 1023.2,776.7 1024.0,775.7 1024.7,776.1 1025.4,777.7 1026.2,775.9 1026.9,776.3 1027.6,777.5 1028.3,777.7 1029.0,779.3 1029.7,779.5 1030.4,779.0 1031.2,778.7 1031.9,778.2 1032.7,779.5 1033.4,780.8" fill="none" stroke="#4F81BD" stroke-width="2.5" stroke-linejoin="round" stroke-linecap="round" shape-rendering="crispEdges"/>
<text x="784" y="657" font-size="19" textLength="77.5" lengthAdjust="spacingAndGlyphs" fill="#1E1E1E" stroke="#1E1E1E" stroke-width="0.45">建材指数</text>
<text x="113.3" y="959.3" font-size="11" text-anchor="end" fill="#000">797</text>
<text x="113.3" y="979.5" font-size="11" text-anchor="end" fill="#000">697</text>
<text x="113.3" y="999.6" font-size="11" text-anchor="end" fill="#000">597</text>
<text x="113.3" y="1019.8" font-size="11" text-anchor="end" fill="#000">497</text>
<text x="113.3" y="1039.9" font-size="11" text-anchor="end" fill="#000">397</text>
<text x="113.3" y="1060.1" font-size="11" text-anchor="end" fill="#000">297</text>
<line x1="128" y1="1056.1" x2="537.4" y2="1056.1" stroke="#D9D9D9" stroke-width="1"/>
<text transform="translate(130.8,1072.0) rotate(-45)" font-size="11" text-anchor="end" fill="#000">2019-01-02</text>
<text transform="translate(196.5,1072.0) rotate(-45)" font-size="11" text-anchor="end" fill="#000">2020-01-02</text>
<text transform="translate(262.2,1072.0) rotate(-45)" font-size="11" text-anchor="end" fill="#000">2021-01-02</text>
<text transform="translate(327.9,1072.0) rotate(-45)" font-size="11" text-anchor="end" fill="#000">2022-01-02</text>
<text transform="translate(393.6,1072.0) rotate(-45)" font-size="11" text-anchor="end" fill="#000">2023-01-02</text>
<text transform="translate(459.3,1072.0) rotate(-45)" font-size="11" text-anchor="end" fill="#000">2024-01-02</text>
<text transform="translate(525.0,1072.0) rotate(-45)" font-size="11" text-anchor="end" fill="#000">2025-01-02</text>
<polyline points="128.0,1004.6 128.8,1002.5 129.6,1001.3 130.4,1000.2 131.2,997.3 132.1,999.2 133.0,997.0 133.9,999.1 134.6,1000.0 135.4,999.7 136.1,999.6 136.8,998.4 137.6,997.9 138.3,995.4 139.0,995.7 139.7,992.8 140.6,995.9 141.4,997.5 142.2,1000.3 143.0,1001.0 143.9,999.4 144.8,997.5 145.7,997.9 146.7,999.1 147.6,1000.9 148.5,1001.0 149.2,1000.5 149.9,1002.9 150.7,1004.1 151.4,1002.2 152.1,1003.7 152.9,1005.1 153.6,1006.4 154.4,1006.8 155.2,1006.9 155.9,1008.2 156.7,1010.1 157.5,1008.9 158.3,1007.1 159.2,1003.9 160.0,1000.7 160.9,1000.1 161.6,1003.5 162.3,1005.8 163.0,1007.3 163.8,1007.5 164.5,1009.8 165.2,1012.0 165.9,1013.0 166.7,1012.8 167.4,1012.6 168.2,1012.1 169.0,1012.2 169.7,1010.5 170.5,1010.2 171.2,1011.0 172.0,1009.1 172.7,1010.1 173.4,1008.1 174.1,1008.0 174.9,1007.0 175.8,1007.7 176.7,1009.1 177.6,1010.1 178.3,1009.6 179.1,1010.0 179.8,1013.9 180.5,1012.5 181.2,1013.7 182.0,1012.7 182.7,1014.9 183.4,1015.8 184.1,1014.0 184.9,1015.5 185.7,1015.1 186.4,1013.4 187.2,1013.2 188.0,1010.8 188.8,1010.0 189.6,1012.5 190.3,1010.1 191.1,1010.8 191.9,1009.0 192.7,1008.7 193.5,1007.2 194.2,1008.4 195.0,1006.7 195.8,1006.4 196.5,1010.3 197.2,1012.1 198.0,1014.6 198.7,1017.5 199.4,1018.3 200.2,1017.1 200.9,1016.0 201.6,1016.1 202.3,1015.7 203.1,1016.4 203.8,1016.8 204.5,1018.5 205.3,1022.1 206.0,1025.0 206.7,1025.5 207.5,1029.5 208.4,1035.2 209.2,1039.2 210.0,1041.9 210.7,1037.4 211.4,1036.2 212.2,1032.8 213.1,1035.6 214.0,1039.2 214.7,1036.3 215.4,1037.5 216.2,1033.4 216.9,1032.8 217.6,1031.0 218.4,1031.0 219.2,1031.5 220.0,1030.0 220.8,1028.5 221.5,1028.2 222.3,1026.7 223.1,1027.4 223.9,1028.7 224.7,1028.5 225.4,1025.6 226.2,1024.7 227.0,1025.2 227.8,1025.3 228.6,1025.5 229.3,1026.4 230.1,1026.0 230.8,1025.3 231.6,1022.2 232.3,1024.2 233.1,1023.5 233.9,1022.8 234.6,1023.5 235.4,1019.9 236.1,1019.8 236.9,1021.4 237.6,1020.1 238.4,1022.2 239.2,1022.0 240.0,1021.3 240.8,1023.0 241.5,1024.2 242.3,1022.6 243.1,1024.6 243.9,1021.9 244.6,1019.5 245.4,1017.0 246.1,1016.1 246.9,1012.9 247.7,1011.9 248.6,1014.2 249.5,1018.3 250.2,1015.8 251.0,1016.4 251.8,1013.0 252.5,1014.1 253.3,1011.2 254.0,1011.0 254.8,1009.8 255.6,1013.2 256.4,1011.2 257.1,1014.0 257.9,1014.2 258.7,1014.6 259.5,1013.7 260.2,1011.8 260.9,1012.1 261.7,1010.1 262.4,1012.2 263.1,1011.2 263.9,1009.8 264.6,1008.4 265.3,1007.3 266.0,1008.3 266.8,1006.4 267.5,1000.6 268.2,995.3 269.0,989.1 269.7,989.7 270.5,991.8 271.3,994.6 272.2,994.9 273.1,999.0 274.0,1000.1 274.8,1000.8 275.5,999.9 276.2,1003.0 277.0,1001.4 277.7,1002.8 278.5,1001.2 279.2,999.0 280.0,998.1 280.8,998.7 281.6,995.7 282.4,993.9 283.1,993.7 283.9,994.7 284.7,995.1 285.5,998.2 286.3,996.5 287.0,1000.5 287.8,998.4 288.6,1001.0 289.3,1000.9 290.1,998.6 290.8,995.6 291.5,995.1 292.2,993.7 293.0,992.4 293.8,991.8 294.6,991.1 295.4,991.1 296.1,992.8 296.9,992.3 297.7,990.0 298.5,991.9 299.2,989.6 300.0,990.7 300.7,993.2 301.5,990.8 302.3,992.8 303.2,990.8 304.1,986.6 305.0,984.6 305.9,982.9 306.8,976.3 307.7,974.6 308.5,968.6 309.3,960.1 310.1,953.6 310.8,955.8 311.5,958.6 312.3,963.7 313.0,974.8 313.7,983.7 314.5,985.2 315.3,985.5 316.1,987.8 316.9,990.9 317.7,991.0 318.5,991.5 319.2,994.1 319.9,994.1 320.6,995.7 321.4,998.2 322.3,998.9 323.2,998.3 324.1,997.3 325.0,993.6 325.9,990.4 326.8,989.1 327.6,986.1 328.3,986.2 329.1,984.1 329.9,981.7 330.6,979.8 331.4,979.1 332.2,981.8 333.0,983.7 333.7,982.2 334.5,980.4 335.2,977.4 335.9,973.9 336.6,972.8 337.4,977.6 338.1,985.5 338.9,984.0 339.6,980.6 340.4,979.4 341.2,976.4 342.1,972.2 343.0,972.0 343.9,968.2 344.8,972.7 345.7,978.2 346.6,977.3 347.6,975.2 348.5,971.8 349.2,970.2 350.0,966.9 350.7,968.2 351.5,965.1 352.3,964.8 353.0,961.8 353.7,964.5 354.5,967.7 355.2,973.3 355.9,975.2 356.7,979.1 357.5,982.3 358.3,987.3 359.1,992.4 359.9,996.4 360.7,991.4 361.4,989.8 362.1,986.4 362.8,987.9 363.6,989.7 364.3,990.0 365.0,993.7 365.8,994.6 366.5,995.0 367.3,994.5 368.1,992.0 368.9,992.7 369.7,990.9 370.4,991.5 371.2,990.0 372.0,987.6 372.7,989.5 373.5,988.9 374.2,986.4 375.0,985.5 375.8,984.6 376.5,987.8 377.2,990.9 377.9,992.2 378.7,998.6 379.4,1000.1 380.2,997.6 380.9,995.9 381.7,994.2 382.4,993.1 383.2,993.6 384.0,991.0 384.7,988.4 385.5,987.8 386.3,988.9 387.1,986.3 387.9,984.8 388.6,985.8 389.4,984.6 390.2,983.3 391.0,981.5 391.8,980.6 392.5,977.0 393.3,978.0 394.1,976.0 394.9,973.7 395.6,973.6 396.3,975.3 397.1,978.0 397.8,979.5 398.5,980.9 399.4,979.9 400.3,979.1 401.2,980.0 402.0,981.7 402.7,982.8 403.4,986.4 404.2,989.3 404.9,990.0 405.6,988.5 406.4,989.7 407.2,990.0 407.9,987.7 408.7,989.6 409.4,988.2 410.2,991.5 411.0,991.5 411.8,993.4 412.6,996.7 413.3,997.4 414.1,998.8 414.9,1001.0 415.6,1003.7 416.3,1004.5 417.1,1004.2 417.8,1005.2 418.5,1007.3 419.3,1006.5 420.0,1006.5 420.8,1008.1 421.6,1007.2 422.3,1007.2 423.1,1005.5 424.0,1003.2 424.9,1000.0 425.8,995.5 426.5,993.3 427.3,994.1 428.0,994.9 428.7,994.1 429.5,991.9 430.4,988.3 431.3,986.1 432.2,983.7 432.9,984.4 433.7,983.8 434.5,984.7 435.2,983.4 436.0,985.0 436.7,985.5 437.5,986.9 438.3,986.7 439.1,988.6 439.9,992.8 440.6,993.6 441.4,995.6 442.2,995.5 443.0,995.0 443.8,994.7 444.5,994.1 445.3,993.2 446.1,989.4 446.9,990.5 447.6,989.1 448.4,988.0 449.2,989.1 449.9,987.5 450.7,988.1 451.4,989.1 452.2,987.3 453.0,989.3 453.8,989.6 454.5,992.1 455.3,993.3 456.1,996.6 456.9,996.0 457.7,998.2 458.6,995.8 459.5,995.1 460.4,992.8 461.1,991.7 461.8,993.5 462.6,994.9 463.3,993.6 464.0,992.9 464.8,993.8 465.5,994.2 466.2,993.0 466.9,993.1 467.7,994.6 468.4,992.6 469.1,992.4 469.9,992.1 470.6,991.0 471.3,991.0 472.1,989.3 472.9,988.0 473.6,988.8 474.4,989.0 475.2,987.4 476.0,986.5 476.8,985.5 477.5,985.1 478.3,982.7 479.1,983.5 479.9,981.7 480.7,981.1 481.4,980.4 482.2,979.1 483.0,979.9 483.7,980.3 484.4,981.0 485.1,981.8 485.9,983.7 486.6,984.3 487.3,984.4 488.1,985.6 488.8,984.2 489.5,986.4 490.2,987.2 491.0,990.2 491.7,989.3 492.4,991.7 493.1,992.8 493.9,993.0 494.7,992.6 495.5,995.2 496.3,993.1 497.0,995.0 497.8,993.2 498.6,994.6 499.4,995.2 500.2,1000.0 501.1,1000.5 501.9,1002.8 502.7,997.7 503.4,995.1 504.2,991.7 505.0,988.2 505.7,990.8 506.4,990.5 507.2,992.8 507.9,997.1 508.6,997.3 509.3,998.0 510.0,995.9 510.7,996.5 511.4,996.4 512.2,997.4 512.9,997.1 513.6,997.8 514.3,997.6 515.0,996.4 515.9,995.6 516.8,995.4 517.7,993.7 518.5,995.4 519.2,996.4 520.0,996.3 520.7,998.3 521.5,998.9 522.3,999.1 523.2,997.4 524.1,992.8 524.8,991.4 525.5,993.8 526.2,990.8 526.9,993.3 527.6,992.6 528.3,992.2 529.0,993.6 529.7,992.2 530.5,991.9 531.4,992.5 532.3,994.6 533.2,994.6 533.9,996.6 534.6,996.5 535.3,996.5 536.0,997.5 536.7,998.2 537.4,999.1" fill="none" stroke="#4F81BD" stroke-width="2.5" stroke-linejoin="round" stroke-linecap="round" shape-rendering="crispEdges"/>
<text x="279.8" y="916.3" font-size="19" textLength="77.9" lengthAdjust="spacingAndGlyphs" fill="#7F7F7F" stroke="#7F7F7F" stroke-width="0.45">化工指数</text>
<text x="627.1" y="966.2" font-size="11" text-anchor="end" fill="#000">1,955</text>
<text x="627.1" y="997.8" font-size="11" text-anchor="end" fill="#000">1,455</text>
<text x="627.1" y="1029.4" font-size="11" text-anchor="end" fill="#000">955</text>
<text x="627.1" y="1061.0" font-size="11" text-anchor="end" fill="#000">455</text>
<line x1="642.4" y1="1057" x2="1031.7" y2="1057" stroke="#D9D9D9" stroke-width="1"/>
<text transform="translate(645.1,1072.3) rotate(-45)" font-size="11" text-anchor="end" fill="#000">2019-01-02</text>
<text transform="translate(707.5,1072.3) rotate(-45)" font-size="11" text-anchor="end" fill="#000">2020-01-02</text>
<text transform="translate(769.9,1072.3) rotate(-45)" font-size="11" text-anchor="end" fill="#000">2021-01-02</text>
<text transform="translate(832.3,1072.3) rotate(-45)" font-size="11" text-anchor="end" fill="#000">2022-01-02</text>
<text transform="translate(894.7,1072.3) rotate(-45)" font-size="11" text-anchor="end" fill="#000">2023-01-02</text>
<text transform="translate(957.1,1072.3) rotate(-45)" font-size="11" text-anchor="end" fill="#000">2024-01-02</text>
<text transform="translate(1019.5,1072.3) rotate(-45)" font-size="11" text-anchor="end" fill="#000">2025-01-02</text>
<polyline points="642.4,1030.2 643.2,1029.1 644.0,1025.9 644.8,1024.9 645.5,1024.7 646.3,1025.4 647.0,1025.0 647.7,1025.0 648.4,1025.7 649.1,1026.0 649.8,1025.5 650.5,1023.6 651.2,1022.7 651.9,1022.2 652.6,1021.4 653.4,1022.1 654.1,1021.9 654.9,1023.6 655.6,1023.9 656.3,1024.0 657.1,1022.0 657.8,1024.2 658.5,1021.6 659.3,1022.8 660.0,1022.2 660.7,1020.4 661.5,1021.7 662.2,1018.8 663.0,1019.3 663.7,1020.6 664.4,1017.3 665.2,1018.7 665.9,1018.7 666.6,1022.1 667.3,1023.4 668.0,1026.5 668.7,1026.6 669.4,1027.2 670.1,1026.0 670.8,1027.3 671.5,1025.3 672.2,1024.9 673.0,1025.4 673.7,1026.4 674.4,1025.8 675.2,1026.1 675.9,1027.4 676.7,1027.5 677.4,1027.7 678.1,1030.5 678.9,1030.3 679.6,1030.5 680.3,1029.8 681.1,1031.9 681.8,1031.1 682.5,1030.7 683.3,1030.8 684.0,1030.4 684.8,1031.0 685.5,1029.3 686.2,1031.4 686.9,1030.3 687.6,1030.7 688.3,1031.8 689.0,1031.9 689.8,1033.9 690.5,1032.0 691.2,1033.0 691.9,1034.3 692.6,1032.4 693.4,1033.2 694.1,1035.8 694.8,1035.6 695.5,1034.9 696.3,1033.8 697.0,1035.5 697.7,1035.9 698.5,1034.3 699.2,1033.9 699.9,1033.6 700.7,1032.4 701.4,1030.2 702.1,1028.8 702.8,1026.9 703.5,1026.3 704.2,1026.0 704.9,1024.9 705.6,1025.8 706.4,1025.6 707.1,1026.4 707.8,1028.8 708.5,1029.3 709.2,1029.9 709.9,1029.4 710.7,1031.8 711.4,1030.9 712.2,1029.2 712.9,1031.0 713.8,1032.5 714.7,1035.6 715.5,1036.3 716.4,1041.0 717.3,1046.9 718.0,1047.2 718.7,1044.6 719.4,1045.2 720.1,1046.7 720.9,1045.2 721.7,1047.2 722.6,1049.3 723.5,1050.5 724.2,1048.7 725.0,1049.0 725.7,1048.5 726.4,1046.7 727.2,1047.3 727.9,1046.1 728.7,1045.6 729.4,1046.6 730.1,1044.5 730.9,1043.4 731.6,1041.8 732.3,1042.5 733.1,1040.9 733.9,1042.5 734.7,1039.9 735.4,1039.4 736.2,1039.2 737.0,1040.0 737.8,1040.5 738.5,1039.0 739.2,1039.1 739.9,1039.5 740.6,1036.7 741.4,1036.3 742.1,1038.6 742.8,1036.8 743.5,1037.9 744.2,1036.4 744.9,1035.5 745.6,1036.3 746.5,1037.3 747.4,1038.5 748.3,1041.6 749.0,1042.6 749.7,1041.0 750.5,1039.8 751.2,1039.7 751.9,1039.0 752.7,1039.0 753.4,1038.4 754.1,1042.1 754.8,1041.9 755.5,1044.1 756.2,1043.4 756.9,1042.3 757.6,1042.1 758.3,1039.9 759.0,1038.3 759.7,1039.0 760.4,1039.0 761.2,1037.4 761.9,1034.1 762.6,1034.7 763.3,1031.9 764.0,1032.3 764.8,1029.9 765.6,1030.3 766.4,1030.8 767.1,1028.6 767.9,1029.5 768.7,1026.4 769.5,1026.6 770.3,1027.4 771.2,1029.7 772.1,1030.2 772.9,1028.2 773.6,1027.5 774.4,1028.4 775.1,1026.1 775.9,1026.1 776.7,1023.2 777.4,1023.1 778.2,1022.0 778.9,1022.6 779.7,1022.0 780.4,1024.7 781.2,1022.4 782.0,1023.3 782.7,1023.1 783.4,1020.7 784.1,1021.1 784.8,1019.5 785.5,1018.5 786.3,1017.8 787.0,1012.5 787.7,1008.8 788.4,1006.3 789.1,1012.1 789.9,1015.2 790.7,1020.4 791.6,1017.2 792.4,1014.7 793.3,1013.4 794.1,1012.2 794.8,1011.7 795.6,1010.6 796.4,1012.4 797.1,1010.9 797.9,1009.9 798.6,1010.7 799.3,1010.3 800.0,1007.2 800.8,1006.7 801.5,1007.6 802.2,1005.4 802.9,1005.4 803.6,1007.7 804.3,1010.3 805.0,1011.4 805.7,1011.6 806.4,1008.1 807.1,1006.5 807.8,1005.5 808.5,1002.0 809.2,1000.1 809.9,997.8 810.7,991.3 811.4,990.0 812.1,984.6 812.8,980.7 813.5,980.3 814.2,981.7 814.9,982.4 815.8,965.7 816.7,951.5 817.4,977.4 818.1,1001.9 818.8,1002.3 819.5,1005.7 820.2,1005.9 820.9,1006.4 821.6,1008.1 822.3,1008.8 823.0,1011.6 823.7,1011.9 824.4,1015.7 825.1,1016.0 825.9,1014.0 826.6,1014.6 827.3,1014.0 828.0,1012.4 828.7,1012.5 829.4,1012.4 830.2,1010.1 831.0,1010.0 831.7,1008.7 832.5,1006.8 833.2,1006.0 834.0,1005.4 834.7,1003.5 835.4,1003.2 836.1,1005.0 836.8,1002.7 837.5,1002.8 838.7,996.6 839.5,987.4 840.4,977.1 841.3,986.8 842.2,999.2 843.1,993.2 844.0,986.8 844.8,991.2 845.7,996.6 846.6,993.9 847.5,990.6 848.4,988.6 849.1,987.5 849.8,988.7 850.5,988.7 851.2,988.8 851.9,990.4 852.6,989.3 853.3,986.1 854.0,984.7 854.7,984.7 855.4,981.5 856.3,983.1 857.2,984.0 858.1,983.3 859.0,988.5 859.9,991.3 860.7,993.3 861.6,997.0 862.5,1001.0 863.3,998.9 864.0,1000.7 864.7,1000.2 865.5,998.7 866.2,998.5 866.9,998.3 867.6,996.6 868.3,994.4 869.1,990.6 869.8,990.3 870.5,986.8 871.4,990.8 872.2,996.1 873.1,1000.1 874.0,1000.8 874.9,1002.3 875.8,1005.4 876.7,1004.5 877.5,1001.5 878.4,998.3 879.1,998.5 879.8,995.7 880.5,995.2 881.3,995.1 882.0,995.7 882.8,998.5 883.7,1002.7 884.6,1007.2 885.3,1008.7 886.0,1009.5 886.7,1012.4 887.4,1015.4 888.1,1016.9 888.9,1014.4 889.6,1015.2 890.3,1012.9 891.0,1012.0 891.7,1009.8 892.4,1008.4 893.2,1008.4 893.9,1008.7 894.6,1007.0 895.4,1005.2 896.1,1006.3 896.9,1007.5 897.6,1007.5 898.4,1005.9 899.2,1005.2 900.0,1008.0 900.7,1007.3 901.5,1005.5 902.3,1007.2 903.2,1010.1 904.1,1013.5 904.9,1018.7 905.8,1015.8 906.7,1010.0 907.6,1007.2 908.5,1009.5 909.4,1009.8 910.2,1009.8 911.0,1010.0 911.7,1013.7 912.4,1014.2 913.1,1017.0 913.8,1017.8 914.5,1018.8 915.3,1016.8 916.1,1016.0 916.8,1018.8 917.6,1016.9 918.3,1018.5 919.1,1016.9 919.8,1016.8 920.6,1016.2 921.4,1015.7 922.1,1014.3 922.9,1012.9 923.6,1010.8 924.4,1011.6 925.1,1010.8 925.9,1008.3 926.7,1007.1 927.4,1007.0 928.2,1002.8 928.9,1003.4 929.7,1001.0 930.4,998.1 931.2,999.0 931.9,998.0 932.6,994.9 933.4,994.5 934.1,993.0 935.0,992.9 935.9,990.0 936.8,987.7 937.5,989.3 938.2,989.7 938.9,990.5 939.6,992.9 940.3,994.8 941.0,994.9 941.7,994.5 942.4,995.2 943.1,995.0 943.8,996.6 944.5,999.0 945.2,1000.7 946.0,1001.0 946.7,1002.8 947.4,1005.4 948.1,1006.9 948.8,1008.0 949.5,1011.1 950.2,1010.6 950.9,1012.5 951.8,1010.0 952.7,1010.2 953.6,1007.2 954.3,1006.3 955.1,1008.1 955.9,1007.6 956.6,1009.6 957.4,1009.0 958.2,1010.0 959.0,1008.4 959.7,1009.8 960.4,1009.8 961.2,1008.9 961.9,1007.8 962.6,1008.3 963.3,1007.9 964.0,1004.8 964.7,1004.8 965.4,1004.4 966.1,1003.3 966.8,1003.6 967.6,1001.4 968.3,1001.4 969.1,1000.3 969.8,1001.3 970.6,999.7 971.4,997.8 972.1,998.3 972.9,998.5 973.6,999.7 974.4,1000.1 975.1,1000.2 975.9,1000.7 976.7,1001.2 977.4,1003.6 978.1,1006.2 978.8,1006.3 979.5,1004.9 980.2,1007.9 981.0,1008.1 981.7,1008.4 982.4,1005.6 983.2,1002.7 983.9,1002.7 984.6,1001.2 985.4,1000.1 986.1,1000.0 986.9,1002.2 987.7,1001.4 988.5,1005.5 989.2,1005.6 990.0,1006.5 990.8,1008.5 991.6,1008.1 992.3,1008.9 993.0,1007.8 993.8,1008.1 994.5,1008.0 995.2,1007.9 996.0,1009.8 996.9,1012.5 997.7,1013.4 998.5,1013.3 999.2,1010.3 1000.0,1008.8 1000.7,1009.1 1001.4,1008.6 1002.2,1006.3 1002.9,1009.0 1003.6,1007.6 1004.3,1011.0 1005.0,1012.4 1005.7,1012.5 1006.4,1013.2 1007.1,1011.7 1007.8,1011.1 1008.5,1013.2 1009.2,1011.4 1009.9,1011.5 1010.7,1012.0 1011.4,1011.3 1012.1,1012.8 1012.8,1011.6 1013.5,1009.6 1014.2,1007.9 1014.9,1008.6 1015.6,1007.8 1016.3,1006.3 1017.2,1005.6 1018.1,1003.5 1019.0,1001.0 1019.7,1003.0 1020.4,1003.7 1021.2,1002.7 1021.9,1003.3 1022.6,1002.8 1023.4,1004.5 1024.1,1005.5 1024.9,1008.0 1025.6,1008.0 1026.3,1011.6 1027.1,1011.5 1027.8,1014.2 1028.6,1013.3 1029.4,1014.4 1030.1,1010.7 1030.9,1009.9 1031.7,1010.7" fill="none" stroke="#4F81BD" stroke-width="2.5" stroke-linejoin="round" stroke-linecap="round" shape-rendering="crispEdges"/>
<text x="784" y="917" font-size="19" textLength="77.5" lengthAdjust="spacingAndGlyphs" fill="#3F3720" stroke="#3F3720" stroke-width="0.45">能源指数</text>
<text x="110.7" y="1206.1" font-size="11" text-anchor="end" fill="#000">2,218</text>
<text x="110.7" y="1221.7" font-size="11" text-anchor="end" fill="#000">2,018</text>
<text x="110.7" y="1237.2" font-size="11" text-anchor="end" fill="#000">1,818</text>
<text x="110.7" y="1252.8" font-size="11" text-anchor="end" fill="#000">1,618</text>
<text x="110.7" y="1268.3" font-size="11" text-anchor="end" fill="#000">1,418</text>
<text x="110.7" y="1283.9" font-size="11" text-anchor="end" fill="#000">1,218</text>
<text x="110.7" y="1299.4" font-size="11" text-anchor="end" fill="#000">1,018</text>
<text x="110.7" y="1315.0" font-size="11" text-anchor="end" fill="#000">818</text>
<line x1="125.1" y1="1311" x2="534.3" y2="1311" stroke="#D9D9D9" stroke-width="1"/>
<text transform="translate(128.2,1326.5) rotate(-45)" font-size="11" text-anchor="end" fill="#000">2019-01-02</text>
<text transform="translate(193.9,1326.5) rotate(-45)" font-size="11" text-anchor="end" fill="#000">2020-01-02</text>
<text transform="translate(259.6,1326.5) rotate(-45)" font-size="11" text-anchor="end" fill="#000">2021-01-02</text>
<text transform="translate(325.3,1326.5) rotate(-45)" font-size="11" text-anchor="end" fill="#000">2022-01-02</text>
<text transform="translate(391.0,1326.5) rotate(-45)" font-size="11" text-anchor="end" fill="#000">2023-01-02</text>
<text transform="translate(456.7,1326.5) rotate(-45)" font-size="11" text-anchor="end" fill="#000">2024-01-02</text>
<text transform="translate(522.4,1326.5) rotate(-45)" font-size="11" text-anchor="end" fill="#000">2025-01-02</text>
<polyline points="125.1,1293.7 125.9,1294.0 126.6,1293.6 127.4,1295.9 128.2,1295.6 129.1,1293.0 130.0,1294.9 130.9,1292.8 131.6,1294.0 132.4,1293.8 133.1,1292.6 133.8,1292.1 134.6,1292.8 135.5,1293.7 136.4,1293.5 137.3,1293.7 138.0,1293.5 138.8,1293.2 139.6,1293.5 140.3,1294.3 141.1,1294.8 141.8,1293.7 142.6,1295.4 143.4,1293.1 144.2,1293.8 145.0,1294.6 145.7,1295.2 146.5,1294.8 147.3,1295.6 148.1,1293.5 148.8,1292.0 149.6,1291.8 150.3,1291.2 151.1,1291.8 151.8,1289.2 152.6,1290.8 153.3,1290.8 154.0,1291.3 154.8,1291.5 155.5,1290.1 156.2,1291.2 156.9,1292.6 157.7,1290.8 158.4,1293.6 159.1,1293.7 159.9,1293.6 160.6,1292.1 161.4,1292.6 162.2,1293.5 162.9,1291.4 163.7,1291.0 164.6,1289.7 165.5,1286.7 166.4,1285.5 167.1,1285.2 167.9,1287.2 168.6,1284.5 169.3,1285.2 170.0,1286.5 170.8,1287.6 171.5,1287.4 172.2,1286.7 173.0,1289.2 173.7,1289.2 174.4,1288.1 175.2,1288.2 176.0,1287.1 176.7,1286.9 177.5,1286.4 178.2,1285.5 178.9,1285.3 179.7,1284.4 180.4,1284.8 181.1,1287.3 181.8,1286.2 182.5,1284.8 183.2,1287.5 183.9,1285.5 184.6,1286.5 185.3,1284.4 186.0,1285.1 186.7,1283.5 187.4,1283.6 188.1,1283.1 188.9,1281.3 189.6,1281.7 190.3,1279.5 191.0,1280.1 191.8,1281.2 192.5,1282.5 193.3,1281.8 194.1,1283.9 194.9,1283.8 195.7,1286.1 196.4,1287.4 197.2,1289.1 197.9,1288.6 198.6,1289.7 199.3,1290.4 200.1,1290.1 200.9,1289.7 201.7,1293.6 202.5,1293.6 203.3,1293.7 204.1,1291.0 204.9,1292.1 205.7,1289.3 206.4,1288.3 207.2,1287.9 207.9,1291.3 208.6,1290.7 209.4,1292.1 210.1,1291.9 210.8,1291.1 211.6,1293.8 212.4,1291.8 213.1,1292.8 213.9,1293.8 214.6,1294.6 215.4,1292.2 216.1,1293.4 216.9,1291.4 217.7,1290.9 218.4,1291.6 219.2,1290.1 220.0,1289.4 220.7,1290.6 221.5,1289.3 222.3,1289.8 223.1,1288.4 223.9,1289.2 224.6,1287.4 225.4,1287.9 226.2,1284.7 226.9,1285.9 227.7,1283.8 228.4,1284.5 229.2,1282.8 229.9,1283.1 230.7,1283.3 231.5,1280.6 232.2,1281.2 233.0,1282.1 233.7,1281.0 234.6,1281.1 235.4,1278.8 236.3,1275.1 237.1,1275.5 237.9,1273.7 238.7,1274.2 239.4,1277.5 240.1,1279.2 240.8,1278.9 241.6,1275.3 242.3,1276.8 243.0,1274.7 243.7,1272.8 244.5,1271.3 245.3,1270.5 246.1,1270.7 246.9,1271.4 247.6,1269.8 248.4,1267.6 249.2,1268.3 250.1,1268.4 251.0,1271.9 251.8,1269.1 252.5,1269.9 253.3,1266.3 254.1,1266.0 254.8,1263.6 255.6,1262.8 256.4,1262.5 257.1,1260.6 257.9,1258.9 258.7,1259.2 259.5,1262.2 260.3,1262.9 261.1,1265.3 261.9,1266.4 262.7,1266.2 263.4,1265.4 264.1,1261.0 264.9,1260.8 265.6,1260.1 266.5,1257.1 267.4,1256.4 268.3,1254.6 269.2,1256.8 270.1,1257.4 271.0,1257.3 272.0,1258.0 272.9,1261.9 273.7,1259.2 274.5,1259.8 275.3,1257.7 276.1,1255.5 276.9,1253.7 277.6,1252.5 278.3,1250.0 279.1,1250.9 279.8,1248.2 280.6,1250.1 281.3,1254.1 282.1,1255.4 282.9,1257.3 283.8,1252.7 284.7,1251.0 285.4,1254.9 286.2,1259.1 286.9,1264.6 287.7,1262.9 288.5,1258.9 289.2,1255.5 290.0,1253.1 290.7,1252.6 291.4,1252.3 292.2,1251.8 292.9,1251.0 293.6,1250.7 294.3,1249.5 295.1,1248.8 295.8,1247.1 296.5,1248.2 297.3,1248.9 298.1,1248.4 298.9,1247.8 299.6,1249.7 300.4,1251.8 301.2,1249.0 302.0,1251.0 302.7,1248.4 303.5,1248.8 304.3,1246.1 305.0,1244.7 305.8,1244.1 306.5,1242.8 307.4,1241.4 308.4,1241.8 309.3,1241.0 310.2,1244.1 311.1,1248.6 312.0,1250.1 312.9,1248.1 313.8,1242.8 314.7,1242.4 315.6,1245.4 316.5,1246.4 317.5,1250.1 318.4,1253.1 319.3,1254.6 320.2,1253.4 321.1,1250.8 322.0,1248.2 322.7,1248.0 323.5,1246.3 324.2,1245.3 324.9,1246.3 325.6,1244.6 326.6,1241.8 327.5,1236.4 328.3,1237.6 329.2,1236.4 330.0,1235.5 330.8,1229.8 331.6,1226.4 332.5,1221.3 333.3,1215.5 334.0,1220.1 334.7,1225.0 335.5,1229.1 336.4,1230.4 337.3,1232.9 338.2,1234.6 339.1,1230.0 340.0,1224.6 340.9,1221.8 341.6,1218.6 342.4,1215.8 343.1,1213.7 343.9,1217.4 344.7,1217.8 345.5,1220.0 346.2,1217.8 347.0,1215.5 347.7,1213.7 348.5,1212.2 349.3,1209.7 350.0,1209.1 350.9,1212.6 351.8,1220.7 352.7,1224.6 354.0,1241.0 354.7,1246.3 355.5,1251.9 356.4,1251.7 357.3,1252.1 358.2,1251.9 359.1,1246.7 360.0,1242.8 360.8,1240.9 361.5,1239.8 362.2,1239.9 362.9,1239.2 363.7,1239.1 364.6,1242.9 365.5,1245.4 366.4,1248.2 367.3,1248.8 368.2,1245.9 369.1,1245.5 370.0,1248.2 370.9,1248.2 371.9,1249.1 372.6,1246.8 373.4,1246.2 374.2,1246.7 375.0,1247.2 375.8,1244.1 376.5,1244.6 377.3,1242.8 378.1,1243.2 378.9,1245.3 379.7,1243.3 380.4,1245.3 381.2,1247.4 382.0,1245.9 382.8,1247.3 383.7,1248.3 384.6,1249.3 385.5,1252.8 386.4,1248.5 387.3,1246.4 388.1,1246.2 388.8,1248.3 389.6,1247.3 390.4,1248.5 391.1,1248.4 391.9,1250.1 392.6,1250.2 393.3,1250.9 394.0,1250.0 394.7,1248.2 395.4,1249.8 396.1,1250.4 396.8,1249.0 397.5,1247.0 398.2,1248.2 399.0,1251.8 399.7,1254.6 400.4,1255.3 401.2,1257.2 401.9,1261.0 402.8,1259.0 403.7,1259.3 404.6,1258.2 405.3,1261.0 406.1,1261.6 406.8,1264.0 407.5,1263.1 408.3,1265.5 409.2,1264.3 410.1,1265.2 411.0,1263.7 411.7,1266.0 412.4,1267.0 413.2,1269.8 413.9,1270.4 414.6,1272.8 415.5,1267.4 416.4,1264.6 417.4,1261.0 418.3,1257.0 419.2,1256.6 420.1,1253.7 420.9,1252.0 421.6,1251.4 422.4,1250.6 423.2,1249.1 424.0,1249.7 424.8,1251.7 425.6,1251.6 426.5,1254.6 427.2,1255.1 427.9,1253.0 428.6,1253.5 429.4,1249.5 430.1,1250.1 430.8,1251.9 431.5,1253.7 432.3,1253.8 433.0,1254.5 433.7,1257.3 434.5,1256.9 435.2,1257.6 436.0,1260.5 436.8,1259.0 437.5,1262.2 438.3,1261.9 439.2,1261.9 440.1,1262.6 441.0,1262.8 441.7,1262.2 442.5,1261.2 443.2,1260.6 443.9,1259.5 444.6,1258.2 445.4,1258.9 446.1,1261.6 446.8,1261.2 447.6,1264.1 448.3,1264.6 449.1,1266.2 449.8,1266.9 450.6,1265.9 451.4,1268.1 452.2,1269.5 453.0,1268.4 453.7,1269.2 454.5,1269.2 455.3,1270.8 456.1,1273.0 456.9,1271.0 457.6,1271.4 458.4,1273.8 459.2,1274.6 459.9,1275.0 460.7,1275.2 461.4,1273.6 462.1,1275.6 462.8,1273.7 463.6,1271.0 464.4,1270.9 465.1,1266.9 465.9,1264.8 466.6,1263.4 467.4,1262.8 468.2,1261.9 468.9,1264.0 469.7,1264.8 470.4,1264.1 471.2,1267.3 471.9,1266.4 472.7,1265.8 473.4,1264.9 474.1,1264.8 474.9,1266.5 475.6,1265.5 476.3,1265.9 477.0,1262.2 477.8,1260.6 478.5,1262.1 479.2,1260.1 480.0,1259.9 480.7,1263.2 481.4,1262.2 482.1,1263.4 482.9,1263.7 483.6,1263.5 484.3,1265.5 485.1,1264.7 485.8,1264.6 486.5,1265.5 487.2,1267.6 488.0,1265.6 488.7,1268.5 489.4,1267.0 490.1,1269.2 490.9,1270.9 491.7,1271.4 492.5,1274.2 493.3,1272.8 494.1,1275.5 495.0,1274.2 495.8,1272.0 496.6,1272.2 497.4,1269.2 498.2,1269.5 498.9,1267.2 499.7,1264.6 500.5,1263.5 501.2,1262.3 502.0,1261.9 502.7,1262.0 503.4,1261.7 504.2,1262.0 504.9,1264.2 505.6,1263.7 506.5,1262.2 507.3,1259.0 508.1,1259.4 509.0,1254.7 509.8,1253.7 510.5,1257.9 511.3,1260.4 512.0,1265.5 512.9,1264.0 513.8,1260.1 514.5,1263.9 515.3,1264.4 516.0,1268.6 516.7,1271.4 517.4,1272.8 518.2,1272.1 518.9,1272.2 519.6,1272.8 520.4,1274.1 521.1,1272.8 522.0,1270.7 522.9,1271.6 523.8,1270.1 524.5,1269.3 525.3,1267.7 526.0,1267.1 526.7,1267.0 527.5,1264.6 528.4,1265.1 529.3,1269.0 530.2,1269.2 531.1,1267.3 532.0,1266.4 532.8,1268.0 533.5,1268.9 534.3,1268.3" fill="none" stroke="#4F81BD" stroke-width="2.5" stroke-linejoin="round" stroke-linecap="round" shape-rendering="crispEdges"/>
<text x="277.2" y="1171" font-size="19" textLength="77.4" lengthAdjust="spacingAndGlyphs" fill="#31849B" stroke="#31849B" stroke-width="0.45">油脂指数</text>
<text x="626.4" y="1204.0" font-size="11" text-anchor="end" fill="#000">1,219</text>
<text x="626.4" y="1219.9" font-size="11" text-anchor="end" fill="#000">1,119</text>
<text x="626.4" y="1235.7" font-size="11" text-anchor="end" fill="#000">1,019</text>
<text x="626.4" y="1251.6" font-size="11" text-anchor="end" fill="#000">919</text>
<text x="626.4" y="1267.4" font-size="11" text-anchor="end" fill="#000">819</text>
<text x="626.4" y="1283.3" font-size="11" text-anchor="end" fill="#000">719</text>
<text x="626.4" y="1299.1" font-size="11" text-anchor="end" fill="#000">619</text>
<text x="626.4" y="1315.0" font-size="11" text-anchor="end" fill="#000">519</text>
<line x1="641" y1="1311" x2="1027.7" y2="1311" stroke="#D9D9D9" stroke-width="1"/>
<text transform="translate(643.4,1326.5) rotate(-45)" font-size="11" text-anchor="end" fill="#000">2019-01-02</text>
<text transform="translate(705.4,1326.5) rotate(-45)" font-size="11" text-anchor="end" fill="#000">2020-01-02</text>
<text transform="translate(767.4,1326.5) rotate(-45)" font-size="11" text-anchor="end" fill="#000">2021-01-02</text>
<text transform="translate(829.4,1326.5) rotate(-45)" font-size="11" text-anchor="end" fill="#000">2022-01-02</text>
<text transform="translate(891.4,1326.5) rotate(-45)" font-size="11" text-anchor="end" fill="#000">2023-01-02</text>
<text transform="translate(953.4,1326.5) rotate(-45)" font-size="11" text-anchor="end" fill="#000">2024-01-02</text>
<text transform="translate(1015.4,1326.5) rotate(-45)" font-size="11" text-anchor="end" fill="#000">2025-01-02</text>
<polyline points="641.0,1211.2 641.7,1213.2 642.5,1218.6 643.2,1222.2 644.0,1223.6 644.8,1221.7 645.7,1219.6 646.6,1220.1 647.3,1218.6 648.0,1221.3 648.7,1217.9 649.4,1220.7 650.1,1219.2 651.0,1219.5 651.9,1222.9 652.8,1223.6 653.5,1221.9 654.3,1221.9 655.0,1223.3 655.7,1221.0 656.5,1221.6 657.2,1221.8 658.1,1225.3 659.0,1226.7 659.9,1228.0 660.6,1231.7 661.4,1234.4 662.2,1235.1 663.0,1227.3 663.8,1221.8 664.6,1216.5 665.4,1220.6 666.2,1223.3 667.0,1224.2 667.8,1228.9 668.6,1228.5 669.3,1227.2 670.1,1227.5 670.8,1226.0 671.6,1225.4 672.4,1228.3 673.1,1226.2 674.0,1227.7 674.9,1231.7 675.8,1232.4 676.5,1231.7 677.2,1233.4 677.9,1232.8 678.6,1234.3 679.3,1235.1 680.1,1233.1 680.8,1233.9 681.6,1231.2 682.3,1231.5 683.1,1235.3 683.8,1237.4 684.6,1239.1 685.4,1242.8 686.1,1246.3 686.9,1249.2 687.6,1249.0 688.3,1245.4 689.0,1243.3 689.7,1244.2 690.4,1242.2 691.2,1240.1 691.9,1236.8 692.6,1236.0 693.3,1236.3 694.0,1238.0 694.7,1238.7 695.4,1240.1 696.1,1243.0 697.0,1243.7 697.9,1243.9 698.8,1244.8 699.5,1247.6 700.3,1249.6 701.0,1251.1 701.8,1256.0 702.5,1258.6 703.3,1260.9 704.1,1263.4 704.9,1262.6 705.8,1262.2 706.7,1260.7 707.6,1264.4 708.5,1266.1 709.4,1266.9 710.2,1265.0 711.1,1261.3 712.0,1258.9 712.9,1260.1 713.8,1262.2 714.7,1264.2 715.5,1267.9 716.4,1268.0 717.3,1270.4 718.1,1267.2 718.9,1264.4 719.7,1260.6 720.5,1258.9 721.2,1256.7 722.0,1249.3 722.8,1247.4 723.5,1243.0 724.4,1246.2 725.3,1245.7 726.2,1248.3 726.9,1246.9 727.6,1244.4 728.3,1243.0 729.1,1245.7 729.9,1249.1 730.7,1252.3 731.5,1257.2 732.2,1257.3 732.9,1256.0 733.6,1255.4 734.3,1251.4 735.0,1251.9 735.8,1252.5 736.6,1251.3 737.4,1252.4 738.2,1251.9 738.9,1253.8 739.6,1254.8 740.3,1258.8 741.0,1257.2 741.7,1260.7 742.5,1262.9 743.2,1264.6 744.0,1264.7 744.7,1266.0 745.6,1264.0 746.5,1263.0 747.4,1258.9 748.1,1255.5 748.8,1254.4 749.6,1252.3 750.3,1248.5 751.0,1247.1 751.8,1243.9 752.5,1245.5 753.2,1247.9 753.9,1250.1 754.6,1252.3 755.3,1253.6 756.1,1254.4 756.8,1256.9 757.6,1258.0 758.4,1258.3 759.1,1261.0 759.9,1261.2 760.6,1263.4 761.3,1263.5 762.0,1260.8 762.7,1260.4 763.5,1258.5 764.2,1257.2 764.9,1257.8 765.6,1257.7 766.4,1258.2 767.1,1261.6 767.8,1261.0 768.6,1261.6 769.3,1260.3 770.0,1258.9 770.7,1258.5 771.4,1255.1 772.1,1253.5 772.8,1254.4 773.5,1251.9 774.3,1253.0 775.1,1254.8 775.9,1256.7 776.6,1258.2 777.4,1258.1 778.2,1260.9 779.0,1259.6 779.8,1262.3 780.6,1264.2 781.3,1264.1 782.0,1262.8 782.7,1259.3 783.4,1258.1 784.1,1258.1 784.8,1257.9 785.5,1258.0 786.3,1259.6 787.0,1261.7 787.7,1261.4 788.4,1261.9 789.1,1261.3 789.8,1263.4 790.5,1265.4 791.3,1269.8 792.0,1271.1 792.7,1272.6 793.5,1275.1 794.2,1277.5 795.1,1277.0 796.0,1275.4 796.9,1273.1 797.6,1270.8 798.3,1271.6 799.0,1269.4 799.7,1268.9 800.4,1267.8 801.1,1266.3 801.9,1266.2 802.6,1265.5 803.3,1265.0 804.1,1263.2 804.8,1264.2 805.7,1266.8 806.6,1271.6 807.5,1274.9 808.4,1273.6 809.2,1274.3 810.1,1275.7 811.0,1272.6 811.9,1267.3 812.8,1264.2 813.7,1256.1 814.5,1249.2 815.4,1251.0 816.3,1255.7 817.2,1257.2 818.1,1251.4 819.0,1248.8 819.8,1243.9 820.6,1247.3 821.4,1247.3 822.2,1250.3 823.0,1252.8 823.8,1256.4 824.5,1258.5 825.3,1260.3 826.0,1263.4 826.9,1264.2 827.8,1267.9 828.7,1270.4 829.4,1268.8 830.2,1268.8 830.9,1266.2 831.6,1265.4 832.4,1265.0 833.1,1263.4 833.9,1263.0 834.7,1260.0 835.5,1258.7 836.4,1258.0 837.2,1256.3 837.9,1264.8 838.7,1270.4 839.5,1268.5 840.4,1270.3 841.3,1267.8 842.2,1265.0 843.1,1260.7 844.0,1259.4 844.8,1259.5 845.7,1258.1 846.5,1254.8 847.3,1251.3 848.0,1250.1 848.8,1252.5 849.5,1252.8 850.3,1254.8 851.0,1256.3 851.9,1257.2 852.8,1259.4 853.7,1258.9 854.4,1259.4 855.2,1256.4 855.9,1257.9 856.6,1257.0 857.4,1256.6 858.1,1256.3 859.0,1258.9 859.9,1258.9 860.7,1260.7 861.5,1260.8 862.2,1262.4 862.9,1261.0 863.6,1261.4 864.3,1261.6 865.0,1259.7 865.7,1258.8 866.4,1256.3 867.1,1254.6 867.8,1251.9 868.5,1252.2 869.2,1251.7 869.9,1254.6 870.6,1254.9 871.4,1255.4 872.2,1258.1 873.1,1258.9 873.8,1259.3 874.5,1256.6 875.2,1256.4 876.0,1255.4 876.7,1256.3 877.4,1258.8 878.1,1257.9 878.9,1259.3 879.6,1263.0 880.3,1263.9 881.1,1265.1 881.8,1263.9 882.5,1266.3 883.3,1266.7 884.0,1266.2 884.8,1265.1 885.5,1266.9 886.4,1268.7 887.3,1269.0 888.1,1270.4 888.9,1270.3 889.6,1271.2 890.4,1270.2 891.1,1269.9 891.8,1267.0 892.6,1267.8 893.3,1267.2 894.0,1267.8 894.7,1266.1 895.4,1269.4 896.1,1267.8 896.8,1264.1 897.5,1261.1 898.2,1258.9 899.0,1259.7 899.9,1260.9 900.7,1264.4 901.5,1264.8 902.3,1266.0 903.0,1267.1 903.7,1267.9 904.4,1267.7 905.1,1269.6 905.8,1271.3 906.5,1271.5 907.2,1270.2 907.9,1269.3 908.7,1266.2 909.4,1266.0 910.1,1266.9 910.8,1268.3 911.6,1271.9 912.3,1273.2 913.0,1275.5 913.8,1277.5 914.5,1277.1 915.3,1277.0 916.1,1275.9 916.8,1277.0 917.6,1274.6 918.3,1276.7 919.1,1274.9 920.0,1275.9 920.9,1275.1 921.7,1277.5 922.6,1274.2 923.5,1272.3 924.4,1269.5 925.1,1269.2 925.8,1269.8 926.5,1268.9 927.2,1268.8 927.9,1269.5 928.7,1270.4 929.4,1268.5 930.1,1269.8 930.9,1270.0 931.6,1269.1 932.3,1268.7 933.1,1268.2 933.8,1269.6 934.6,1267.6 935.3,1268.8 936.0,1265.7 936.8,1266.9 937.1,1270.4 937.6,1255.4 938.5,1259.6 939.4,1264.2 940.3,1263.0 941.2,1259.2 942.1,1258.9 942.9,1254.0 943.8,1246.6 944.7,1249.8 945.6,1256.3 946.5,1260.7 947.2,1260.5 948.0,1263.9 948.7,1263.6 949.4,1265.3 950.2,1265.1 950.9,1266.0 951.6,1268.5 952.4,1270.4 953.1,1271.1 953.8,1272.7 954.6,1276.7 955.3,1277.5 956.0,1276.5 956.7,1279.3 957.4,1277.0 958.1,1276.9 958.9,1278.4 959.7,1274.1 960.6,1273.5 961.5,1269.5 962.2,1272.4 963.0,1271.9 963.7,1274.1 964.5,1274.0 965.2,1277.6 965.9,1277.5 966.7,1277.3 967.5,1274.6 968.2,1273.3 969.0,1274.6 969.8,1271.5 970.6,1273.3 971.3,1270.6 972.1,1270.4 972.8,1270.2 973.5,1272.1 974.2,1271.9 974.9,1273.5 975.6,1272.8 976.4,1276.1 977.1,1274.8 977.8,1277.2 978.5,1275.6 979.2,1277.5 979.9,1278.2 980.7,1278.5 981.4,1276.2 982.1,1274.7 982.9,1275.6 983.6,1275.7 984.3,1276.8 985.1,1276.0 985.8,1277.7 986.6,1276.7 987.3,1278.6 988.0,1279.3 988.8,1281.0 989.6,1281.0 990.3,1282.9 991.1,1281.9 991.9,1285.4 992.7,1284.0 993.4,1287.7 994.2,1287.2 994.9,1288.2 995.6,1287.3 996.3,1285.2 997.0,1283.7 997.7,1283.7 998.5,1283.6 999.2,1285.4 1000.0,1285.0 1000.8,1285.5 1001.5,1281.2 1002.2,1274.0 1002.9,1273.5 1003.7,1275.7 1004.4,1277.9 1005.2,1277.8 1006.0,1278.5 1006.7,1277.9 1007.5,1280.2 1008.2,1280.9 1008.9,1283.3 1009.6,1287.3 1010.3,1289.1 1011.0,1289.9 1011.9,1289.2 1012.8,1291.9 1013.7,1290.8 1014.4,1288.3 1015.1,1289.3 1015.9,1289.7 1016.6,1286.7 1017.3,1287.9 1018.1,1285.5 1018.8,1285.5 1019.5,1282.9 1020.2,1283.3 1020.9,1283.2 1021.6,1282.8 1022.3,1282.7 1023.1,1285.1 1023.8,1283.9 1024.6,1286.7 1025.3,1285.8 1026.0,1287.2 1026.9,1283.6 1027.7,1282.8" fill="none" stroke="#4F81BD" stroke-width="2.5" stroke-linejoin="round" stroke-linecap="round" shape-rendering="crispEdges"/>
<text x="772" y="1171" font-size="19" textLength="96.1" lengthAdjust="spacingAndGlyphs" fill="#76923C" stroke="#76923C" stroke-width="0.45">农产品指数</text>
<text x="113.7" y="1466.9" font-size="11" text-anchor="end" fill="#000">2,320</text>
<text x="113.7" y="1499.2" font-size="11" text-anchor="end" fill="#000">1,820</text>
<text x="113.7" y="1531.6" font-size="11" text-anchor="end" fill="#000">1,320</text>
<text x="113.7" y="1563.9" font-size="11" text-anchor="end" fill="#000">820</text>
<line x1="128" y1="1559.9" x2="537.8" y2="1559.9" stroke="#D9D9D9" stroke-width="1"/>
<text transform="translate(130.8,1576.4) rotate(-45)" font-size="11" text-anchor="end" fill="#000">2019-01-02</text>
<text transform="translate(196.5,1576.4) rotate(-45)" font-size="11" text-anchor="end" fill="#000">2020-01-02</text>
<text transform="translate(262.2,1576.4) rotate(-45)" font-size="11" text-anchor="end" fill="#000">2021-01-02</text>
<text transform="translate(327.9,1576.4) rotate(-45)" font-size="11" text-anchor="end" fill="#000">2022-01-02</text>
<text transform="translate(393.6,1576.4) rotate(-45)" font-size="11" text-anchor="end" fill="#000">2023-01-02</text>
<text transform="translate(459.3,1576.4) rotate(-45)" font-size="11" text-anchor="end" fill="#000">2024-01-02</text>
<text transform="translate(525.0,1576.4) rotate(-45)" font-size="11" text-anchor="end" fill="#000">2025-01-02</text>
<polyline points="128.0,1531.9 128.7,1531.8 129.5,1529.8 130.2,1531.1 131.0,1531.5 131.7,1530.5 132.4,1529.7 133.2,1527.9 133.9,1529.2 134.7,1528.8 135.4,1526.9 136.2,1528.3 137.0,1526.1 137.7,1527.2 138.5,1526.4 139.2,1526.3 139.9,1526.7 140.7,1528.1 141.4,1526.8 142.1,1528.3 143.0,1525.9 143.9,1527.3 144.8,1524.6 145.6,1524.6 146.4,1526.8 147.2,1527.5 148.0,1526.6 148.7,1526.0 149.5,1526.4 150.3,1528.3 151.1,1529.9 151.9,1527.7 152.6,1529.4 153.4,1529.9 154.2,1528.9 155.0,1530.5 155.8,1531.0 156.5,1530.1 157.3,1531.6 158.1,1531.8 158.9,1531.6 159.7,1531.3 160.4,1532.2 161.2,1532.8 161.9,1530.9 162.7,1529.7 163.4,1529.2 164.1,1530.4 164.9,1528.3 165.6,1528.1 166.3,1529.2 167.0,1526.1 167.8,1529.0 168.5,1527.4 169.4,1527.0 170.3,1527.7 171.2,1526.4 172.1,1523.5 173.0,1520.1 173.8,1521.2 174.6,1520.1 175.3,1522.3 176.1,1520.7 176.8,1521.5 177.6,1522.8 178.4,1521.4 179.1,1522.7 179.9,1523.3 180.6,1522.7 181.4,1524.9 182.1,1523.7 182.9,1523.1 183.6,1525.6 184.3,1525.2 185.0,1527.3 185.7,1528.7 186.4,1529.3 187.1,1527.9 187.8,1529.3 188.5,1531.0 189.2,1530.8 190.0,1531.5 190.7,1527.8 191.4,1529.2 192.2,1528.3 192.9,1529.1 193.7,1529.6 194.4,1528.2 195.2,1529.9 195.9,1528.9 196.7,1529.2 197.4,1531.7 198.2,1529.7 198.9,1533.9 199.6,1533.2 200.3,1534.6 201.1,1534.5 201.9,1533.5 202.6,1534.2 203.4,1536.0 204.1,1536.0 204.9,1535.5 205.6,1535.6 206.3,1537.4 207.1,1539.2 208.0,1546.5 208.8,1544.0 209.7,1542.9 210.5,1541.7 211.3,1540.8 212.2,1540.1 212.9,1541.4 213.7,1541.2 214.4,1540.2 215.2,1538.8 216.0,1538.6 216.7,1539.2 217.5,1539.4 218.2,1538.5 219.0,1537.8 219.8,1536.0 220.5,1537.2 221.3,1536.5 222.0,1536.8 222.7,1535.8 223.4,1532.6 224.1,1534.0 224.8,1531.9 225.5,1530.4 226.2,1532.4 226.9,1530.6 227.6,1529.2 228.3,1529.6 229.1,1527.1 229.8,1529.1 230.5,1529.0 231.2,1528.5 231.9,1527.6 232.6,1527.5 233.3,1527.0 234.0,1525.5 234.7,1525.3 235.5,1524.2 236.2,1525.0 236.9,1524.3 237.6,1522.8 238.4,1524.8 239.2,1523.6 239.9,1526.6 240.7,1525.9 241.4,1528.1 242.2,1527.4 242.9,1525.6 243.6,1528.1 244.3,1527.1 245.0,1524.9 245.7,1526.5 246.4,1524.0 247.2,1523.5 247.9,1524.0 248.6,1523.7 249.3,1521.9 250.1,1521.9 250.8,1522.4 251.6,1520.7 252.4,1519.9 253.1,1518.3 253.9,1517.3 254.6,1518.0 255.4,1517.4 256.2,1516.4 256.9,1516.7 257.7,1514.6 258.4,1515.9 259.1,1514.7 259.9,1513.8 260.6,1515.9 261.3,1516.7 262.0,1515.2 262.8,1516.2 263.5,1517.2 264.2,1517.2 264.9,1516.4 265.7,1511.5 266.4,1509.8 267.1,1505.0 267.9,1502.0 268.6,1500.1 269.5,1503.8 270.4,1505.2 271.3,1508.2 272.0,1508.5 272.7,1507.9 273.4,1507.4 274.1,1506.9 274.9,1507.2 275.6,1508.8 276.3,1507.9 277.0,1506.7 277.7,1507.3 278.4,1503.6 279.1,1501.9 279.9,1501.0 280.6,1497.8 281.3,1496.2 282.1,1494.3 282.8,1491.0 283.6,1491.9 284.3,1496.1 285.1,1496.2 285.9,1500.1 286.6,1502.1 287.3,1500.8 288.1,1502.0 288.8,1505.3 289.5,1504.6 290.4,1502.6 291.3,1500.6 292.2,1500.1 293.0,1500.7 293.8,1499.1 294.6,1499.4 295.4,1497.1 296.1,1496.8 296.9,1497.7 297.7,1495.5 298.6,1496.7 299.5,1499.6 300.4,1499.1 301.2,1496.6 302.0,1497.2 302.7,1493.4 303.5,1493.2 304.2,1489.9 305.0,1490.0 305.7,1489.7 306.4,1493.0 307.2,1492.1 307.9,1494.0 308.6,1493.7 309.4,1489.9 310.3,1487.3 311.1,1483.5 311.9,1481.9 312.8,1488.9 313.7,1495.5 314.5,1495.8 315.3,1493.7 316.1,1492.4 316.9,1493.3 317.7,1491.0 318.5,1493.4 319.2,1493.7 319.9,1492.8 320.6,1495.7 321.4,1496.4 322.1,1494.8 322.8,1495.1 323.5,1491.7 324.2,1491.3 324.9,1489.8 325.6,1487.5 326.3,1486.6 327.0,1485.7 327.7,1483.7 328.5,1484.5 329.2,1482.6 330.0,1481.7 330.7,1483.2 331.5,1479.6 332.2,1481.7 333.0,1480.0 333.9,1479.4 334.8,1477.8 335.7,1476.4 337.0,1457.3 337.7,1467.6 338.5,1478.2 339.2,1473.2 339.9,1466.4 341.2,1477.3 342.0,1478.2 342.7,1477.2 343.5,1476.8 344.3,1475.5 345.1,1476.3 346.0,1479.6 346.8,1481.3 347.6,1486.5 348.5,1487.3 349.2,1487.9 350.0,1484.6 350.7,1485.3 351.5,1484.5 352.3,1482.0 353.0,1482.8 353.9,1485.4 354.8,1489.7 355.7,1491.9 356.7,1497.4 357.6,1501.9 358.4,1505.7 359.1,1511.9 359.9,1515.5 360.7,1511.6 361.5,1509.3 362.3,1505.7 363.0,1502.8 363.9,1503.8 364.8,1502.1 365.8,1501.0 366.5,1503.5 367.2,1504.5 367.9,1504.9 368.7,1508.4 369.4,1508.2 370.3,1505.6 371.2,1502.2 372.1,1498.2 373.0,1499.6 373.9,1501.3 374.9,1504.6 375.6,1504.7 376.4,1505.4 377.1,1505.1 377.9,1503.5 378.6,1502.6 379.4,1503.7 380.3,1499.2 381.2,1494.6 382.0,1495.0 382.7,1491.6 383.5,1492.7 384.3,1489.8 385.0,1489.4 385.8,1489.1 386.5,1487.6 387.3,1488.4 388.1,1488.7 388.8,1490.7 389.6,1490.7 390.3,1489.1 391.2,1490.8 392.1,1494.6 393.1,1492.1 394.0,1492.5 394.9,1489.1 395.6,1488.6 396.4,1489.4 397.1,1490.3 397.9,1489.6 398.7,1490.6 399.4,1491.9 400.2,1493.0 400.9,1494.5 401.7,1498.0 402.5,1497.1 403.2,1498.4 404.0,1501.0 404.8,1501.3 405.5,1498.7 406.3,1499.0 407.1,1497.3 407.9,1496.7 408.7,1494.1 409.4,1493.7 410.3,1494.3 411.3,1498.2 412.2,1499.1 412.9,1500.3 413.6,1501.9 414.3,1503.5 415.1,1505.1 415.8,1505.5 416.6,1503.8 417.3,1503.2 418.1,1504.2 418.8,1502.0 419.6,1500.2 420.4,1500.1 421.1,1501.2 421.8,1500.7 422.5,1503.2 423.3,1501.4 424.0,1503.7 424.8,1504.2 425.5,1502.7 426.3,1501.4 427.0,1502.8 427.8,1499.9 428.5,1500.1 429.3,1499.9 430.0,1500.0 430.7,1502.4 431.5,1503.8 432.2,1503.7 433.1,1503.7 434.0,1502.2 434.9,1501.9 435.7,1503.7 436.5,1502.1 437.3,1503.6 438.0,1505.5 438.8,1507.4 439.6,1507.0 440.4,1507.3 441.2,1508.2 441.9,1508.8 442.7,1507.8 443.5,1509.9 444.3,1509.5 445.0,1508.4 445.8,1509.2 446.6,1510.0 447.4,1512.5 448.2,1512.2 448.9,1512.8 449.7,1516.3 450.5,1516.3 451.3,1517.3 452.0,1516.7 452.7,1516.5 453.5,1516.5 454.2,1513.2 454.9,1513.7 455.7,1513.7 456.4,1513.3 457.1,1515.0 457.8,1515.9 458.6,1516.4 459.3,1516.9 460.0,1515.5 460.8,1514.5 461.5,1513.2 462.2,1512.8 463.1,1514.3 464.0,1514.5 464.9,1516.4 465.7,1515.6 466.4,1513.4 467.1,1511.6 467.8,1507.2 468.6,1506.4 469.5,1507.6 470.4,1508.5 471.3,1508.2 472.1,1506.0 472.8,1505.0 473.6,1502.8 474.3,1500.0 475.1,1498.0 475.9,1494.6 476.6,1494.6 477.4,1495.0 478.1,1492.0 478.9,1493.5 479.6,1493.0 480.4,1491.9 481.1,1488.6 481.9,1484.6 482.6,1486.6 483.3,1488.6 484.0,1492.8 484.8,1494.4 485.5,1496.4 486.2,1495.8 487.0,1496.9 487.7,1499.1 488.6,1496.7 489.5,1494.7 490.4,1494.6 491.3,1499.1 492.2,1504.1 493.1,1506.4 493.9,1506.7 494.7,1504.4 495.4,1504.8 496.2,1501.9 496.9,1503.8 497.7,1501.9 498.6,1503.4 499.5,1504.4 500.4,1508.2 501.2,1507.6 501.9,1504.9 502.7,1504.3 503.5,1502.5 504.2,1502.8 505.0,1501.9 505.7,1501.6 506.4,1501.9 507.1,1498.8 507.8,1501.0 508.5,1498.0 509.2,1497.9 509.9,1498.8 510.6,1497.3 511.3,1497.3 512.3,1499.9 513.2,1503.7 513.9,1503.6 514.6,1502.0 515.3,1503.6 516.1,1501.2 516.8,1501.9 517.6,1503.5 518.3,1503.8 519.1,1503.4 519.8,1502.1 520.6,1505.1 521.4,1503.0 522.1,1505.1 522.9,1505.3 523.6,1504.5 524.4,1506.9 525.1,1507.6 525.9,1507.3 526.7,1506.4 527.4,1504.6 528.2,1503.7 528.9,1502.8 529.7,1500.3 530.5,1500.1 531.4,1502.2 532.3,1503.6 533.2,1502.8 534.1,1500.2 535.0,1495.5 535.9,1496.8 536.9,1494.3 537.8,1494.6" fill="none" stroke="#4F81BD" stroke-width="2.5" stroke-linejoin="round" stroke-linecap="round" shape-rendering="crispEdges"/>
<text x="260.9" y="1419.7" font-size="19" textLength="115.2" lengthAdjust="spacingAndGlyphs" fill="#DA9694" stroke="#DA9694" stroke-width="0.45">有色金属指数</text>
</svg>
<div class="abs" style="left:844px;top:1674.5px;font-size:12px;font-weight:bold;color:#FF0000;line-height:17px;letter-spacing:2.2px;-webkit-text-stroke:0.3px #FF0000">了解更多品种信息，请联系客户经理。</div>
<div class="abs" style="left:91px;top:1712.5px;font-size:12px;font-weight:bold;color:#FF0000;line-height:17px;letter-spacing:2.4px;-webkit-text-stroke:0.3px #FF0000">免责声明及风险提示：</div>
<div class="abs" style="left:116px;top:1732.5px;font-size:12px;font-weight:bold;color:#FF0000;line-height:17px;letter-spacing:2.05px;-webkit-text-stroke:0.3px #FF0000">本篇报内容是分析师根据历史经验的总结所形成的，仅供本公司客户参考，在市场不断变化下存在失效的可能，且过往效果不能代表未来表现。</div>
<div class="abs" style="left:116px;top:1752px;font-size:12px;font-weight:bold;color:#FF0000;line-height:17px;letter-spacing:2.05px;-webkit-text-stroke:0.3px #FF0000">篇报内容不能取代客户的独立判断或仅根据本内容做出决策。在任何情况下，客户须对自身投资决策承担全部责任。投资有风险，入市须谨慎。</div>
<svg width="1154" height="2206" style="position:absolute;left:0;top:0">
<defs>
<linearGradient id="lbg" x1="0" y1="0" x2="1" y2="0.3">
 <stop offset="0" stop-color="#8AD4F0"/><stop offset="0.5" stop-color="#6EC4EA"/><stop offset="1" stop-color="#52AEE0"/></linearGradient>
<radialGradient id="mbg" cx="540" cy="1960" r="420" gradientUnits="userSpaceOnUse">
 <stop offset="0" stop-color="#3A92DC"/><stop offset="0.45" stop-color="#2A72C4"/><stop offset="0.8" stop-color="#1A45A0"/><stop offset="1" stop-color="#10237A"/></radialGradient>
<linearGradient id="mbg2" x1="0" y1="0" x2="1" y2="1">
 <stop offset="0" stop-color="#2E8FD6" stop-opacity="0.55"/><stop offset="0.5" stop-color="#2E8FD6" stop-opacity="0"/><stop offset="1" stop-color="#0A1660" stop-opacity="0.5"/></linearGradient>
<linearGradient id="scr" x1="0" y1="0" x2="1" y2="0.4">
 <stop offset="0" stop-color="#6C74C4"/><stop offset="0.4" stop-color="#6A5CA8"/><stop offset="0.65" stop-color="#3A3A78"/><stop offset="1" stop-color="#1E2650"/></linearGradient>
<linearGradient id="gold" x1="0" y1="0" x2="1" y2="1">
 <stop offset="0" stop-color="#B09550"/><stop offset="1" stop-color="#8A7038"/></linearGradient>
<radialGradient id="dot" cx="0.5" cy="0.5" r="0.5"><stop offset="0" stop-color="#5FF0FF"/><stop offset="0.6" stop-color="#25D5EE"/><stop offset="1" stop-color="#25D5EE" stop-opacity="0"/></radialGradient>
<radialGradient id="node" cx="0.5" cy="0.5" r="0.5"><stop offset="0" stop-color="#7CDCFA" stop-opacity="0.85"/><stop offset="0.6" stop-color="#7CDCFA" stop-opacity="0.55"/><stop offset="1" stop-color="#7CDCFA" stop-opacity="0"/></radialGradient>
<filter id="qblur" x="-2%" y="-2%" width="104%" height="104%"><feGaussianBlur stdDeviation="0.55"/></filter>
<radialGradient id="glow" cx="0.5" cy="0.5" r="0.5"><stop offset="0" stop-color="#B8EAFA" stop-opacity="0.45"/><stop offset="1" stop-color="#B8EAFA" stop-opacity="0"/></radialGradient>
<radialGradient id="logo" cx="0.5" cy="0.5" r="0.5"><stop offset="0" stop-color="#FFFFFF"/><stop offset="1" stop-color="#F2B8B8"/></radialGradient>
<clipPath id="mclip"><rect x="434" y="1787" width="444" height="300"/></clipPath>
<clipPath id="lclip"><rect x="1" y="1787" width="433" height="300"/></clipPath>
<clipPath id="scrclip"><path d="M111.5,2087 V1853 Q111.5,1838.5 126,1838.5 H150 Q156,1838.5 157,1843 Q159,1849.7 166,1849.7 H244 Q251,1849.7 253,1843 Q254,1838.5 260,1838.5 H284 Q298.5,1838.5 298.5,1853 V2087 Z"/></clipPath>
</defs>
<rect x="1" y="1787" width="433" height="300" fill="url(#lbg)"/>
<line x1="19.8" y1="1794.5" x2="40.4" y2="1822.6" stroke="#86E2FF" stroke-opacity="0.45" stroke-width="1.8"/>
<line x1="40.4" y1="1822.6" x2="19.8" y2="1852.7" stroke="#86E2FF" stroke-opacity="0.45" stroke-width="1.8"/>
<line x1="19.8" y1="1852.7" x2="62.9" y2="1907" stroke="#86E2FF" stroke-opacity="0.45" stroke-width="1.8"/>
<line x1="1" y1="1907" x2="100" y2="1907" stroke="#86E2FF" stroke-opacity="0.45" stroke-width="1.8"/>
<line x1="38.5" y1="1929.6" x2="62.9" y2="1963.4" stroke="#86E2FF" stroke-opacity="0.45" stroke-width="1.8"/>
<line x1="62.9" y1="1963.4" x2="100" y2="1963.4" stroke="#86E2FF" stroke-opacity="0.45" stroke-width="1.8"/>
<line x1="1" y1="2019.6" x2="100" y2="2019.6" stroke="#86E2FF" stroke-opacity="0.45" stroke-width="1.8"/>
<line x1="19.8" y1="2077.8" x2="62.9" y2="2077.8" stroke="#86E2FF" stroke-opacity="0.45" stroke-width="1.8"/>
<line x1="40" y1="2049.7" x2="62.9" y2="2077.8" stroke="#86E2FF" stroke-opacity="0.45" stroke-width="1.8"/>
<line x1="151.1" y1="1794.5" x2="194.2" y2="1794.5" stroke="#86E2FF" stroke-opacity="0.45" stroke-width="1.8"/>
<line x1="194.2" y1="1794.5" x2="216.8" y2="1822.6" stroke="#86E2FF" stroke-opacity="0.45" stroke-width="1.8"/>
<line x1="151.1" y1="1794.5" x2="124.8" y2="1828.3" stroke="#86E2FF" stroke-opacity="0.45" stroke-width="1.8"/>
<line x1="325.6" y1="1794.5" x2="297.4" y2="1830" stroke="#86E2FF" stroke-opacity="0.45" stroke-width="1.8"/>
<line x1="327.5" y1="1907" x2="370.6" y2="1907" stroke="#86E2FF" stroke-opacity="0.45" stroke-width="1.8"/>
<line x1="327.5" y1="1907" x2="308.7" y2="1933.3" stroke="#86E2FF" stroke-opacity="0.45" stroke-width="1.8"/>
<line x1="370.6" y1="1907" x2="393.1" y2="1935.2" stroke="#86E2FF" stroke-opacity="0.45" stroke-width="1.8"/>
<line x1="393.1" y1="1935.2" x2="370.6" y2="1963.4" stroke="#86E2FF" stroke-opacity="0.45" stroke-width="1.8"/>
<line x1="308.7" y1="2019.6" x2="370.6" y2="2019.6" stroke="#86E2FF" stroke-opacity="0.45" stroke-width="1.8"/>
<line x1="370.6" y1="2019.6" x2="393.1" y2="2049.7" stroke="#86E2FF" stroke-opacity="0.45" stroke-width="1.8"/>
<line x1="393.1" y1="2049.7" x2="370.6" y2="2077.8" stroke="#86E2FF" stroke-opacity="0.45" stroke-width="1.8"/>
<line x1="327.5" y1="2077.8" x2="370.6" y2="2077.8" stroke="#86E2FF" stroke-opacity="0.45" stroke-width="1.8"/>
<line x1="413.8" y1="1907" x2="434" y2="1880" stroke="#86E2FF" stroke-opacity="0.45" stroke-width="1.8"/>
<circle cx="19.8" cy="1794.5" r="6" fill="url(#node)"/>
<circle cx="62.9" cy="1794.5" r="6" fill="url(#node)"/>
<circle cx="107.9" cy="1794.5" r="6" fill="url(#node)"/>
<circle cx="151.1" cy="1794.5" r="6" fill="url(#node)"/>
<circle cx="194.2" cy="1794.5" r="6" fill="url(#node)"/>
<circle cx="280.5" cy="1794.5" r="6" fill="url(#node)"/>
<circle cx="325.6" cy="1794.5" r="6" fill="url(#node)"/>
<circle cx="370.6" cy="1794.5" r="6" fill="url(#node)"/>
<circle cx="413.8" cy="1794.5" r="6" fill="url(#node)"/>
<circle cx="40.4" cy="1822.6" r="6" fill="url(#node)"/>
<circle cx="216.8" cy="1822.6" r="6" fill="url(#node)"/>
<circle cx="391.2" cy="1822.6" r="6" fill="url(#node)"/>
<circle cx="19.8" cy="1852.7" r="6" fill="url(#node)"/>
<circle cx="370.6" cy="1852.7" r="6" fill="url(#node)"/>
<circle cx="19.8" cy="1907" r="6" fill="url(#node)"/>
<circle cx="62.9" cy="1907" r="6" fill="url(#node)"/>
<circle cx="327.5" cy="1907" r="6" fill="url(#node)"/>
<circle cx="370.6" cy="1907" r="6" fill="url(#node)"/>
<circle cx="413.8" cy="1907" r="6" fill="url(#node)"/>
<circle cx="393.1" cy="1935.2" r="6" fill="url(#node)"/>
<circle cx="62.9" cy="1963.4" r="6" fill="url(#node)"/>
<circle cx="370.6" cy="1963.4" r="6" fill="url(#node)"/>
<circle cx="370.6" cy="2019.6" r="6" fill="url(#node)"/>
<circle cx="413.8" cy="2019.6" r="6" fill="url(#node)"/>
<circle cx="393.1" cy="2049.7" r="6" fill="url(#node)"/>
<circle cx="19.8" cy="2077.8" r="6" fill="url(#node)"/>
<circle cx="62.9" cy="2077.8" r="6" fill="url(#node)"/>
<circle cx="327.5" cy="2077.8" r="6" fill="url(#node)"/>
<circle cx="370.6" cy="2077.8" r="6" fill="url(#node)"/>
<ellipse cx="205" cy="1930" rx="170" ry="150" fill="url(#glow)"/>
<rect x="432" y="1787" width="2" height="300" fill="#4CA8DC"/>
<path d="M100,2087 V1852 Q100,1829 123,1829 H285 Q308.3,1829 308.3,1852 V2087 Z" fill="#A8A8A8"/>
<path d="M101,2087 V1852 Q101,1830 123,1830 H285 Q307.3,1830 307.3,1852 V2087 Z" fill="#E8E8E8"/>
<path d="M102.8,2087 V1853 Q102.8,1831.8 124,1831.8 H284.5 Q305.5,1831.8 305.5,1853 V2087 Z" fill="#141414"/>
<path d="M108.8,2087 V1855 Q108.8,1836 126,1836 H283 Q300.5,1836 300.5,1855 V2087" fill="none" stroke="#C8C8C8" stroke-width="1.2"/>
<g clip-path="url(#scrclip)">
<rect x="111" y="1838" width="188" height="250" fill="#FFFFFF"/>
<rect x="111" y="1838" width="188" height="83" fill="url(#scr)"/>
<path d="M200,1921 Q222,1898 250,1884 L299,1870 V1921 Z" fill="#1A2250" opacity="0.8"/>
<path d="M236,1918 Q232,1900 242,1890 Q252,1882 262,1884 L272,1858 Q276,1851 281,1853 Q286,1856 284,1864 L278,1886 Q292,1890 298,1900 L298,1916 Q280,1921 260,1921 Z" fill="#A87490" opacity="0.92"/>
<path d="M244,1902 Q254,1895 268,1898 M248,1910 Q260,1904 276,1907" stroke="#7A4A68" stroke-width="1" fill="none" opacity="0.7"/>
<polyline points="111,1905 122,1896 130,1906 138,1921" fill="none" stroke="#8090D8" stroke-width="0.8"/>
<polyline points="170,1921 180,1908 190,1892 198,1905 205,1921" fill="none" stroke="#8090D8" stroke-width="0.8"/>
<text x="134" y="1874" font-size="26" font-weight="bold" fill="#FFFFFF" style="font-family:'Liberation Serif',serif;font-style:italic">权</text>
<rect x="167" y="1853.5" width="45" height="6.5" fill="#FFFFFF" opacity="0.9"/>
<text x="167" y="1871" font-size="10.5" fill="#FFFFFF" style="font-family:'Liberation Sans',sans-serif">利的游戏</text>
<rect x="117" y="1853" width="10" height="7" rx="1.5" fill="none" stroke="#C0C8F0" stroke-width="0.8"/>
<circle cx="286" cy="1857" r="3.5" fill="none" stroke="#C0C8F0" stroke-width="0.9"/>
<circle cx="130.5" cy="1935.6" r="7.5" fill="#F08A3A"/>
<rect x="128.0" y="1933" width="5" height="5" fill="#FFFFFF" opacity="0.8"/>
<text x="130.5" y="1951" font-size="6" text-anchor="middle" fill="#888">开户</text>
<circle cx="130.5" cy="1968.1" r="7.5" fill="#F08A3A"/>
<rect x="128.0" y="1965.5" width="5" height="5" fill="#FFFFFF" opacity="0.8"/>
<text x="130.5" y="1983.5" font-size="6" text-anchor="middle" fill="#888">库存仓单</text>
<circle cx="166.6" cy="1935.6" r="7.5" fill="#E85C5C"/>
<rect x="164.1" y="1933" width="5" height="5" fill="#FFFFFF" opacity="0.8"/>
<text x="166.6" y="1951" font-size="6" text-anchor="middle" fill="#888">在线客服</text>
<circle cx="166.6" cy="1968.1" r="7.5" fill="#F08A3A"/>
<rect x="164.1" y="1965.5" width="5" height="5" fill="#FFFFFF" opacity="0.8"/>
<text x="166.6" y="1983.5" font-size="6" text-anchor="middle" fill="#888">视频培训</text>
<circle cx="205" cy="1935.6" r="7.5" fill="#2E8EDA"/>
<rect x="202.5" y="1933" width="5" height="5" fill="#FFFFFF" opacity="0.8"/>
<text x="205" y="1951" font-size="6" text-anchor="middle" fill="#888">今日要闻</text>
<circle cx="205" cy="1968.1" r="7.5" fill="#2E8EDA"/>
<rect x="202.5" y="1965.5" width="5" height="5" fill="#FFFFFF" opacity="0.8"/>
<text x="205" y="1983.5" font-size="6" text-anchor="middle" fill="#888">历史行情</text>
<circle cx="243.2" cy="1935.6" r="7.5" fill="#3DB58C"/>
<rect x="240.7" y="1933" width="5" height="5" fill="#FFFFFF" opacity="0.8"/>
<text x="243.2" y="1951" font-size="6" text-anchor="middle" fill="#888">财经日历</text>
<circle cx="243.2" cy="1968.1" r="7.5" fill="#3DB58C"/>
<rect x="240.7" y="1965.5" width="5" height="5" fill="#FFFFFF" opacity="0.8"/>
<text x="243.2" y="1983.5" font-size="6" text-anchor="middle" fill="#888">持仓龙虎</text>
<circle cx="281" cy="1935.6" r="7.5" fill="#2E8EDA"/>
<rect x="278.5" y="1933" width="5" height="5" fill="#FFFFFF" opacity="0.8"/>
<text x="281" y="1951" font-size="6" text-anchor="middle" fill="#888">智能小蓝</text>
<circle cx="281" cy="1968.1" r="7" fill="none" stroke="#AAA" stroke-width="0.8"/><line x1="277" y1="1968.1" x2="285" y2="1968.1" stroke="#AAA" stroke-width="0.8"/><line x1="281" y1="1964.1" x2="281" y2="1972.1" stroke="#AAA" stroke-width="0.8"/>
<text x="281" y="1983.5" font-size="6" text-anchor="middle" fill="#888">添加</text>
<rect x="111" y="1992.5" width="188" height="4" fill="#EFEFEF"/>
<rect x="117" y="2003.5" width="1.8" height="7" fill="#2050A0"/>
<text x="122" y="2010" font-size="8" fill="#333">活动推广</text>
<text x="275" y="2010" font-size="6" fill="#999">更多 ›</text>
<rect x="116.6" y="2017" width="72" height="37.4" fill="url(#gold)"/>
<text x="123" y="2031" font-size="7" fill="#FFF">比赛</text>
<text x="121" y="2045" font-size="5.5" fill="#FFF">全国期货实盘大赛</text>
<rect x="111" y="2060" width="188" height="3" fill="#F2F2F2"/>
<rect x="117" y="2068.5" width="1.8" height="7" fill="#2050A0"/>
<text x="122" y="2075" font-size="8" fill="#333">研究报告</text>
<text x="275" y="2075" font-size="6" fill="#999">更多 ›</text>
</g>
<path d="M150,1838 Q156,1838.5 157,1843 Q159,1849.7 166,1849.7 H244 Q251,1849.7 253,1843 Q254,1838.5 260,1838" fill="#141414"/>
<g clip-path="url(#mclip)">
<rect x="434" y="1787" width="444" height="300" fill="url(#mbg)"/>
<rect x="434" y="1787" width="444" height="300" fill="url(#mbg2)"/>
<circle cx="672" cy="1618" r="213" fill="none" stroke="#2FC8F0" stroke-opacity="0.75" stroke-width="1.1"/>
<circle cx="672" cy="1618" r="311" fill="none" stroke="#2FC8F0" stroke-opacity="0.75" stroke-width="1.1"/>
<circle cx="672" cy="1618" r="432" fill="none" stroke="#2FC8F0" stroke-opacity="0.75" stroke-width="1.1"/>
<circle cx="572.5" cy="1808.2" r="8" fill="url(#dot)"/>
<circle cx="834" cy="1879.3" r="8" fill="url(#dot)"/>
<circle cx="572.5" cy="1808.2" r="4.6" fill="#2FE2F2"/>
<circle cx="834" cy="1879.3" r="4.6" fill="#2FE2F2"/>
</g>
<rect x="434" y="1787" width="2" height="300" fill="#2A86CE"/>
<text x="541" y="1890" font-size="55" textLength="248" lengthAdjust="spacingAndGlyphs" fill="#E2E2E2" stroke="#E2E2E2" stroke-width="3.2" style="font-family:'Liberation Sans',sans-serif">东华乐投</text>
<text x="581.5" y="1963" font-size="19" textLength="175" lengthAdjust="spacing" fill="#DCDCDC" stroke="#DCDCDC" stroke-width="0.7" style="font-family:'Liberation Sans',sans-serif">期货理财投资神器</text>
<text x="525.8" y="1995" font-size="19" textLength="287" lengthAdjust="spacing" fill="#DCDCDC" stroke="#DCDCDC" stroke-width="0.7" style="font-family:'Liberation Sans',sans-serif">万千个人机构用户共同的选择</text>
<text x="482" y="2031.5" font-size="19" textLength="88" lengthAdjust="spacing" fill="#D8D8D8" stroke="#D8D8D8" stroke-width="0.7" style="font-family:'Liberation Sans',sans-serif">全面支持</text>
<text x="584" y="2031.5" font-size="19" textLength="241" lengthAdjust="spacing" fill="#D8D8D8" stroke="#D8D8D8" stroke-width="0.6" style="font-family:'Liberation Sans',sans-serif">Android版、iphone版</text>
<rect x="881" y="1787" width="272" height="301" fill="#FFFFFF"/>
<rect x="883" y="1789" width="268" height="48" fill="#363F5A"/>
<rect x="883" y="2035" width="268" height="51" fill="#363F5A"/>
<text x="906" y="1809.3" font-size="19" textLength="97" lengthAdjust="spacingAndGlyphs" fill="#FFFFFF" stroke="#FFFFFF" stroke-width="0.5" style="font-family:'Liberation Sans',sans-serif">东华期货</text>
<text x="988.5" y="1831.5" font-size="19" textLength="144" lengthAdjust="spacingAndGlyphs" fill="#FFFFFF" stroke="#FFFFFF" stroke-width="0.5" style="font-family:'Liberation Sans',sans-serif">力求极致服务</text>
<text x="892.5" y="2056.5" font-size="19" textLength="170" lengthAdjust="spacingAndGlyphs" fill="#FFFFFF" stroke="#FFFFFF" stroke-width="0.5" style="font-family:'Liberation Sans',sans-serif">免注册下载使用</text>
<text x="948" y="2076.5" font-size="19" textLength="195" lengthAdjust="spacingAndGlyphs" fill="#FFFFFF" stroke="#FFFFFF" stroke-width="0.5" style="font-family:'Liberation Sans',sans-serif">享受期货交易乐趣</text>
<path filter="url(#qblur)" fill="#0A0A0A" d="M885.20,1838.50h49.81v5.14h-49.81zM942.13,1838.50h14.23v5.14h-14.23zM963.48,1838.50h7.12v5.14h-7.12zM977.71,1838.50h7.12v5.14h-7.12zM991.94,1838.50h7.12v5.14h-7.12zM1006.18,1838.50h7.12v5.14h-7.12zM1020.41,1838.50h7.12v5.14h-7.12zM1034.64,1838.50h28.46v5.14h-28.46zM1084.45,1838.50h7.12v5.14h-7.12zM1098.69,1838.50h49.81v5.14h-49.81zM885.20,1843.64h7.12v5.14h-7.12zM927.90,1843.64h7.12v5.14h-7.12zM942.13,1843.64h7.12v5.14h-7.12zM963.48,1843.64h7.12v5.14h-7.12zM991.94,1843.64h14.23v5.14h-14.23zM1020.41,1843.64h14.23v5.14h-14.23zM1041.76,1843.64h21.35v5.14h-21.35zM1070.22,1843.64h7.12v5.14h-7.12zM1098.69,1843.64h7.12v5.14h-7.12zM1141.38,1843.64h7.12v5.14h-7.12zM885.20,1848.78h7.12v5.14h-7.12zM899.43,1848.78h21.35v5.14h-21.35zM927.90,1848.78h7.12v5.14h-7.12zM942.13,1848.78h14.23v5.14h-14.23zM963.48,1848.78h21.35v5.14h-21.35zM999.06,1848.78h28.46v5.14h-28.46zM1041.76,1848.78h7.12v5.14h-7.12zM1055.99,1848.78h7.12v5.14h-7.12zM1077.34,1848.78h14.23v5.14h-14.23zM1098.69,1848.78h7.12v5.14h-7.12zM1112.92,1848.78h21.35v5.14h-21.35zM1141.38,1848.78h7.12v5.14h-7.12zM885.20,1853.92h7.12v5.14h-7.12zM899.43,1853.92h21.35v5.14h-21.35zM927.90,1853.92h7.12v5.14h-7.12zM942.13,1853.92h7.12v5.14h-7.12zM956.36,1853.92h14.23v5.14h-14.23zM999.06,1853.92h21.35v5.14h-21.35zM1041.76,1853.92h14.23v5.14h-14.23zM1063.11,1853.92h7.12v5.14h-7.12zM1084.45,1853.92h7.12v5.14h-7.12zM1098.69,1853.92h7.12v5.14h-7.12zM1112.92,1853.92h21.35v5.14h-21.35zM1141.38,1853.92h7.12v5.14h-7.12zM885.20,1859.06h7.12v5.14h-7.12zM899.43,1859.06h21.35v5.14h-21.35zM927.90,1859.06h7.12v5.14h-7.12zM942.13,1859.06h7.12v5.14h-7.12zM970.59,1859.06h14.23v5.14h-14.23zM991.94,1859.06h21.35v5.14h-21.35zM1020.41,1859.06h28.46v5.14h-28.46zM1063.11,1859.06h28.46v5.14h-28.46zM1098.69,1859.06h7.12v5.14h-7.12zM1112.92,1859.06h21.35v5.14h-21.35zM1141.38,1859.06h7.12v5.14h-7.12zM885.20,1864.20h7.12v5.14h-7.12zM927.90,1864.20h7.12v5.14h-7.12zM956.36,1864.20h21.35v5.14h-21.35zM991.94,1864.20h7.12v5.14h-7.12zM1013.29,1864.20h28.46v5.14h-28.46zM1048.87,1864.20h7.12v5.14h-7.12zM1063.11,1864.20h14.23v5.14h-14.23zM1084.45,1864.20h7.12v5.14h-7.12zM1098.69,1864.20h7.12v5.14h-7.12zM1141.38,1864.20h7.12v5.14h-7.12zM885.20,1869.34h49.81v5.14h-49.81zM970.59,1869.34h7.12v5.14h-7.12zM991.94,1869.34h14.23v5.14h-14.23zM1027.52,1869.34h21.35v5.14h-21.35zM1055.99,1869.34h14.23v5.14h-14.23zM1098.69,1869.34h49.81v5.14h-49.81zM956.36,1874.48h7.12v5.14h-7.12zM1006.18,1874.48h7.12v5.14h-7.12zM1034.64,1874.48h7.12v5.14h-7.12zM1048.87,1874.48h21.35v5.14h-21.35zM1077.34,1874.48h14.23v5.14h-14.23zM885.20,1879.62h7.12v5.14h-7.12zM899.43,1879.62h28.46v5.14h-28.46zM935.01,1879.62h7.12v5.14h-7.12zM1020.41,1879.62h14.23v5.14h-14.23zM1055.99,1879.62h42.70v5.14h-42.70zM1112.92,1879.62h7.12v5.14h-7.12zM1134.27,1879.62h14.23v5.14h-14.23zM885.20,1884.76h7.12v5.14h-7.12zM906.55,1884.76h14.23v5.14h-14.23zM927.90,1884.76h21.35v5.14h-21.35zM956.36,1884.76h28.46v5.14h-28.46zM991.94,1884.76h7.12v5.14h-7.12zM1027.52,1884.76h21.35v5.14h-21.35zM1055.99,1884.76h7.12v5.14h-7.12zM1070.22,1884.76h7.12v5.14h-7.12zM1084.45,1884.76h7.12v5.14h-7.12zM1112.92,1884.76h28.46v5.14h-28.46zM906.55,1889.91h14.23v5.14h-14.23zM927.90,1889.91h14.23v5.14h-14.23zM977.71,1889.91h35.58v5.14h-35.58zM1020.41,1889.91h14.23v5.14h-14.23zM1055.99,1889.91h21.35v5.14h-21.35zM1091.57,1889.91h7.12v5.14h-7.12zM1120.04,1889.91h7.12v5.14h-7.12zM1141.38,1889.91h7.12v5.14h-7.12zM885.20,1895.05h14.23v5.14h-14.23zM906.55,1895.05h7.12v5.14h-7.12zM935.01,1895.05h14.23v5.14h-14.23zM963.48,1895.05h7.12v5.14h-7.12zM977.71,1895.05h7.12v5.14h-7.12zM991.94,1895.05h49.81v5.14h-49.81zM1055.99,1895.05h21.35v5.14h-21.35zM1084.45,1895.05h7.12v5.14h-7.12zM1120.04,1895.05h7.12v5.14h-7.12zM1141.38,1895.05h7.12v5.14h-7.12zM885.20,1900.19h21.35v5.14h-21.35zM920.78,1900.19h7.12v5.14h-7.12zM935.01,1900.19h7.12v5.14h-7.12zM963.48,1900.19h7.12v5.14h-7.12zM984.83,1900.19h28.46v5.14h-28.46zM1041.76,1900.19h14.23v5.14h-14.23zM1098.69,1900.19h28.46v5.14h-28.46zM885.20,1905.33h28.46v5.14h-28.46zM920.78,1905.33h7.12v5.14h-7.12zM949.25,1905.33h7.12v5.14h-7.12zM984.83,1905.33h14.23v5.14h-14.23zM1013.29,1905.33h14.23v5.14h-14.23zM1041.76,1905.33h7.12v5.14h-7.12zM1055.99,1905.33h7.12v5.14h-7.12zM1070.22,1905.33h7.12v5.14h-7.12zM1084.45,1905.33h7.12v5.14h-7.12zM1098.69,1905.33h7.12v5.14h-7.12zM1112.92,1905.33h35.58v5.14h-35.58zM885.20,1910.47h14.23v5.14h-14.23zM927.90,1910.47h14.23v5.14h-14.23zM949.25,1910.47h7.12v5.14h-7.12zM963.48,1910.47h21.35v5.14h-21.35zM991.94,1910.47h7.12v5.14h-7.12zM1006.18,1910.47h7.12v5.14h-7.12zM1020.41,1910.47h35.58v5.14h-35.58zM1070.22,1910.47h35.58v5.14h-35.58zM1112.92,1910.47h21.35v5.14h-21.35zM1141.38,1910.47h7.12v5.14h-7.12zM885.20,1915.61h35.58v5.14h-35.58zM942.13,1915.61h14.23v5.14h-14.23zM963.48,1915.61h7.12v5.14h-7.12zM999.06,1915.61h35.58v5.14h-35.58zM1048.87,1915.61h21.35v5.14h-21.35zM1077.34,1915.61h7.12v5.14h-7.12zM1091.57,1915.61h21.35v5.14h-21.35zM1120.04,1915.61h7.12v5.14h-7.12zM1141.38,1915.61h7.12v5.14h-7.12zM885.20,1920.75h14.23v5.14h-14.23zM906.55,1920.75h7.12v5.14h-7.12zM949.25,1920.75h14.23v5.14h-14.23zM970.59,1920.75h7.12v5.14h-7.12zM999.06,1920.75h7.12v5.14h-7.12zM1013.29,1920.75h21.35v5.14h-21.35zM1048.87,1920.75h21.35v5.14h-21.35zM1077.34,1920.75h7.12v5.14h-7.12zM1112.92,1920.75h7.12v5.14h-7.12zM1134.27,1920.75h14.23v5.14h-14.23zM906.55,1925.89h7.12v5.14h-7.12zM920.78,1925.89h14.23v5.14h-14.23zM963.48,1925.89h14.23v5.14h-14.23zM984.83,1925.89h7.12v5.14h-7.12zM1034.64,1925.89h14.23v5.14h-14.23zM1070.22,1925.89h28.46v5.14h-28.46zM1105.80,1925.89h14.23v5.14h-14.23zM1127.15,1925.89h7.12v5.14h-7.12zM1141.38,1925.89h7.12v5.14h-7.12zM885.20,1931.03h28.46v5.14h-28.46zM927.90,1931.03h7.12v5.14h-7.12zM949.25,1931.03h14.23v5.14h-14.23zM999.06,1931.03h14.23v5.14h-14.23zM1048.87,1931.03h14.23v5.14h-14.23zM1070.22,1931.03h14.23v5.14h-14.23zM1112.92,1931.03h14.23v5.14h-14.23zM892.32,1936.17h14.23v5.14h-14.23zM920.78,1936.17h7.12v5.14h-7.12zM949.25,1936.17h7.12v5.14h-7.12zM963.48,1936.17h14.23v5.14h-14.23zM999.06,1936.17h7.12v5.14h-7.12zM1013.29,1936.17h14.23v5.14h-14.23zM1048.87,1936.17h14.23v5.14h-14.23zM1120.04,1936.17h7.12v5.14h-7.12zM1134.27,1936.17h7.12v5.14h-7.12zM899.43,1941.31h56.93v5.14h-56.93zM963.48,1941.31h7.12v5.14h-7.12zM984.83,1941.31h7.12v5.14h-7.12zM999.06,1941.31h21.35v5.14h-21.35zM1034.64,1941.31h7.12v5.14h-7.12zM1048.87,1941.31h14.23v5.14h-14.23zM1077.34,1941.31h7.12v5.14h-7.12zM1091.57,1941.31h7.12v5.14h-7.12zM1134.27,1941.31h14.23v5.14h-14.23zM885.20,1946.45h7.12v5.14h-7.12zM942.13,1946.45h7.12v5.14h-7.12zM984.83,1946.45h42.70v5.14h-42.70zM1034.64,1946.45h7.12v5.14h-7.12zM1048.87,1946.45h14.23v5.14h-14.23zM1077.34,1946.45h21.35v5.14h-21.35zM1105.80,1946.45h42.70v5.14h-42.70zM892.32,1951.59h21.35v5.14h-21.35zM920.78,1951.59h7.12v5.14h-7.12zM935.01,1951.59h7.12v5.14h-7.12zM949.25,1951.59h7.12v5.14h-7.12zM963.48,1951.59h7.12v5.14h-7.12zM1006.18,1951.59h7.12v5.14h-7.12zM1020.41,1951.59h7.12v5.14h-7.12zM1063.11,1951.59h7.12v5.14h-7.12zM1077.34,1951.59h21.35v5.14h-21.35zM1105.80,1951.59h14.23v5.14h-14.23zM885.20,1956.73h28.46v5.14h-28.46zM920.78,1956.73h7.12v5.14h-7.12zM935.01,1956.73h7.12v5.14h-7.12zM949.25,1956.73h7.12v5.14h-7.12zM977.71,1956.73h21.35v5.14h-21.35zM1006.18,1956.73h21.35v5.14h-21.35zM1034.64,1956.73h14.23v5.14h-14.23zM1055.99,1956.73h28.46v5.14h-28.46zM1098.69,1956.73h7.12v5.14h-7.12zM1120.04,1956.73h7.12v5.14h-7.12zM1134.27,1956.73h7.12v5.14h-7.12zM892.32,1961.87h28.46v5.14h-28.46zM949.25,1961.87h21.35v5.14h-21.35zM977.71,1961.87h7.12v5.14h-7.12zM991.94,1961.87h21.35v5.14h-21.35zM1020.41,1961.87h14.23v5.14h-14.23zM1048.87,1961.87h14.23v5.14h-14.23zM1084.45,1961.87h7.12v5.14h-7.12zM1098.69,1961.87h7.12v5.14h-7.12zM1120.04,1961.87h7.12v5.14h-7.12zM1141.38,1961.87h7.12v5.14h-7.12zM885.20,1967.01h21.35v5.14h-21.35zM920.78,1967.01h28.46v5.14h-28.46zM970.59,1967.01h7.12v5.14h-7.12zM999.06,1967.01h7.12v5.14h-7.12zM1034.64,1967.01h7.12v5.14h-7.12zM1055.99,1967.01h21.35v5.14h-21.35zM1084.45,1967.01h28.46v5.14h-28.46zM1120.04,1967.01h14.23v5.14h-14.23zM899.43,1972.15h21.35v5.14h-21.35zM942.13,1972.15h35.58v5.14h-35.58zM984.83,1972.15h7.12v5.14h-7.12zM999.06,1972.15h14.23v5.14h-14.23zM1020.41,1972.15h7.12v5.14h-7.12zM1034.64,1972.15h7.12v5.14h-7.12zM1063.11,1972.15h7.12v5.14h-7.12zM1084.45,1972.15h7.12v5.14h-7.12zM1134.27,1972.15h7.12v5.14h-7.12zM892.32,1977.29h7.12v5.14h-7.12zM913.66,1977.29h7.12v5.14h-7.12zM935.01,1977.29h14.23v5.14h-14.23zM977.71,1977.29h7.12v5.14h-7.12zM991.94,1977.29h7.12v5.14h-7.12zM1027.52,1977.29h7.12v5.14h-7.12zM1055.99,1977.29h7.12v5.14h-7.12zM1070.22,1977.29h7.12v5.14h-7.12zM1084.45,1977.29h7.12v5.14h-7.12zM1098.69,1977.29h49.81v5.14h-49.81zM892.32,1982.44h21.35v5.14h-21.35zM935.01,1982.44h14.23v5.14h-14.23zM970.59,1982.44h7.12v5.14h-7.12zM1006.18,1982.44h35.58v5.14h-35.58zM1048.87,1982.44h7.12v5.14h-7.12zM1063.11,1982.44h7.12v5.14h-7.12zM1077.34,1982.44h14.23v5.14h-14.23zM1105.80,1982.44h14.23v5.14h-14.23zM949.25,1987.58h21.35v5.14h-21.35zM999.06,1987.58h7.12v5.14h-7.12zM1013.29,1987.58h7.12v5.14h-7.12zM1027.52,1987.58h7.12v5.14h-7.12zM1041.76,1987.58h7.12v5.14h-7.12zM1055.99,1987.58h7.12v5.14h-7.12zM1091.57,1987.58h35.58v5.14h-35.58zM1134.27,1987.58h14.23v5.14h-14.23zM885.20,1992.72h49.81v5.14h-49.81zM942.13,1992.72h14.23v5.14h-14.23zM963.48,1992.72h7.12v5.14h-7.12zM977.71,1992.72h21.35v5.14h-21.35zM1020.41,1992.72h21.35v5.14h-21.35zM1048.87,1992.72h14.23v5.14h-14.23zM1084.45,1992.72h7.12v5.14h-7.12zM1127.15,1992.72h7.12v5.14h-7.12zM885.20,1997.86h7.12v5.14h-7.12zM927.90,1997.86h7.12v5.14h-7.12zM949.25,1997.86h7.12v5.14h-7.12zM963.48,1997.86h7.12v5.14h-7.12zM999.06,1997.86h28.46v5.14h-28.46zM1034.64,1997.86h7.12v5.14h-7.12zM1055.99,1997.86h14.23v5.14h-14.23zM1084.45,1997.86h7.12v5.14h-7.12zM1105.80,1997.86h28.46v5.14h-28.46zM1141.38,1997.86h7.12v5.14h-7.12zM885.20,2003.00h7.12v5.14h-7.12zM899.43,2003.00h21.35v5.14h-21.35zM927.90,2003.00h7.12v5.14h-7.12zM949.25,2003.00h21.35v5.14h-21.35zM991.94,2003.00h21.35v5.14h-21.35zM1020.41,2003.00h28.46v5.14h-28.46zM1055.99,2003.00h7.12v5.14h-7.12zM1070.22,2003.00h7.12v5.14h-7.12zM1084.45,2003.00h7.12v5.14h-7.12zM1127.15,2003.00h14.23v5.14h-14.23zM885.20,2008.14h7.12v5.14h-7.12zM899.43,2008.14h21.35v5.14h-21.35zM927.90,2008.14h7.12v5.14h-7.12zM942.13,2008.14h14.23v5.14h-14.23zM963.48,2008.14h35.58v5.14h-35.58zM1006.18,2008.14h21.35v5.14h-21.35zM1034.64,2008.14h21.35v5.14h-21.35zM1070.22,2008.14h14.23v5.14h-14.23zM1091.57,2008.14h7.12v5.14h-7.12zM1105.80,2008.14h14.23v5.14h-14.23zM1127.15,2008.14h21.35v5.14h-21.35zM885.20,2013.28h7.12v5.14h-7.12zM899.43,2013.28h21.35v5.14h-21.35zM927.90,2013.28h7.12v5.14h-7.12zM956.36,2013.28h28.46v5.14h-28.46zM1006.18,2013.28h14.23v5.14h-14.23zM1034.64,2013.28h21.35v5.14h-21.35zM1063.11,2013.28h49.81v5.14h-49.81zM1127.15,2013.28h7.12v5.14h-7.12zM1141.38,2013.28h7.12v5.14h-7.12zM885.20,2018.42h7.12v5.14h-7.12zM927.90,2018.42h7.12v5.14h-7.12zM942.13,2018.42h21.35v5.14h-21.35zM984.83,2018.42h7.12v5.14h-7.12zM1006.18,2018.42h7.12v5.14h-7.12zM1020.41,2018.42h21.35v5.14h-21.35zM1048.87,2018.42h14.23v5.14h-14.23zM1105.80,2018.42h14.23v5.14h-14.23zM1127.15,2018.42h21.35v5.14h-21.35zM885.20,2023.56h49.81v5.14h-49.81zM949.25,2023.56h7.12v5.14h-7.12zM963.48,2023.56h14.23v5.14h-14.23zM984.83,2023.56h7.12v5.14h-7.12zM1020.41,2023.56h21.35v5.14h-21.35zM1063.11,2023.56h14.23v5.14h-14.23zM1084.45,2023.56h7.12v5.14h-7.12zM1098.69,2023.56h7.12v5.14h-7.12zM1112.92,2023.56h7.12v5.14h-7.12zM1127.15,2023.56h7.12v5.14h-7.12zM1141.38,2023.56h7.12v5.14h-7.12z"/>
<rect x="979" y="1906" width="76" height="56" rx="7" fill="#FFFFFF"/>
<rect x="981.5" y="1908.5" width="71" height="51" rx="6" fill="#D81C1C"/>
<ellipse cx="1017" cy="1934" rx="27" ry="19" fill="url(#logo)"/>
<path d="M993,1927 Q1005,1922 1017,1934 Q1029,1946 1041,1941 L1041,1934 Q1029,1938 1017,1927 Q1005,1916 993,1920 Z" fill="#C81818"/>
<path d="M998,1946 Q1008,1944 1017,1934 L1024,1927 Q1030,1922 1038,1924 L1034,1918 Q1024,1916 1016,1925 L1010,1932 Q1004,1940 996,1940 Z" fill="#C81818" opacity="0.85"/>
</svg>
<div class="abs" style="left:115px;top:2112px;font-family:'Liberation Mono',monospace;font-size:13.4px;font-weight:bold;line-height:18.5px;white-space:pre">Powered by Donghua AI 小蓝<br>Copyright <span style="font-size:9px;position:relative;top:-3px">©</span> www.dhfutures.com  All Rights Reserved.</div>
<div class="abs" style="left:115px;top:2149px;font-family:'Liberation Mono',monospace;font-size:14.2px;font-weight:bold;line-height:18.5px">江苏东华期货有限公司</div>
<div class="abs" style="left:271px;top:2149px;font-family:'Liberation Mono',monospace;font-size:14.2px;font-weight:bold;line-height:18.5px">版权所有</div>
<div style="position:absolute;left:0;top:2205px;width:1154px;height:1px;background:#fff"></div>
</body></html>
